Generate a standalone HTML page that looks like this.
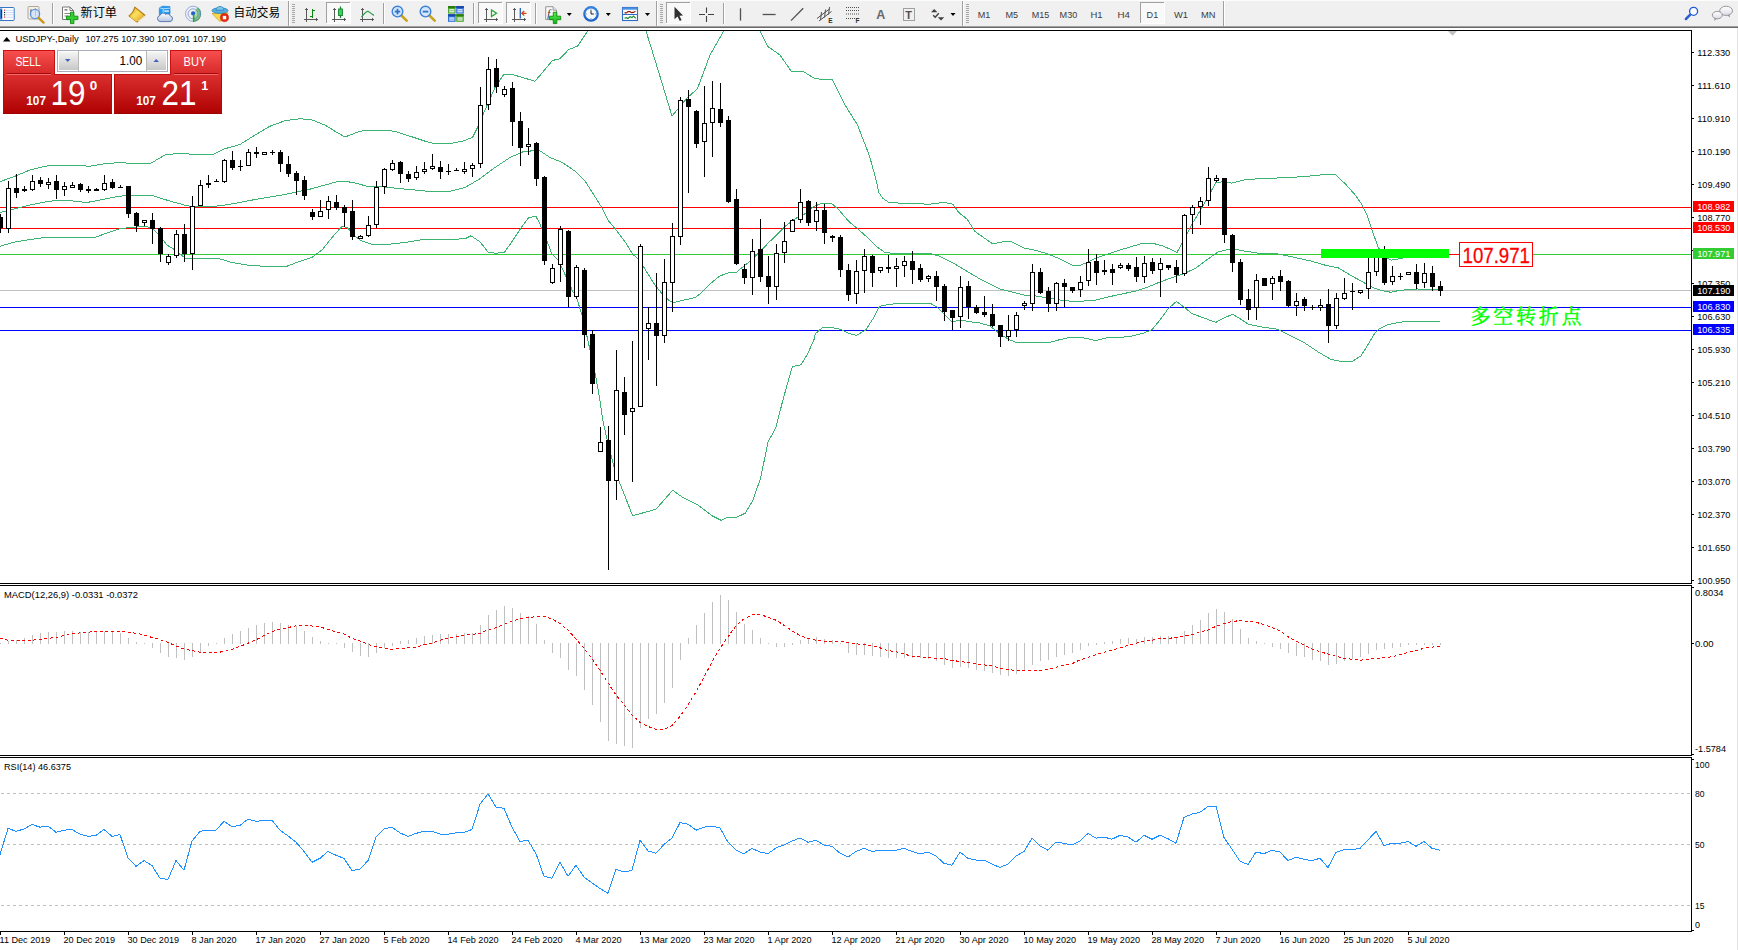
<!DOCTYPE html>
<html lang="zh"><head><meta charset="utf-8"><title>USDJPY Daily</title>
<style>
html,body{margin:0;padding:0;background:#fff;}
body{width:1738px;height:950px;overflow:hidden;position:relative;}
svg{position:absolute;left:0;top:0;display:block;font-family:"Liberation Sans","Noto Sans CJK SC",sans-serif;}
text{white-space:pre;}
</style></head><body>
<svg width="1738" height="950" viewBox="0 0 1738 950">
<rect x="0" y="28" width="1738" height="922" fill="#fff"/>
<rect x="1737" y="28" width="1" height="922" fill="#e3e3e3"/>
<defs><clipPath id="cm"><rect x="0" y="31" width="1691" height="552"/></clipPath><linearGradient id="gt" x1="0" y1="0" x2="0" y2="1"><stop offset="0" stop-color="#f85050"/><stop offset="1" stop-color="#d62828"/></linearGradient><linearGradient id="gb" x1="0" y1="0" x2="0" y2="1"><stop offset="0" stop-color="#dc3030"/><stop offset="1" stop-color="#ae0000"/></linearGradient><linearGradient id="gs" x1="0" y1="0" x2="0" y2="1"><stop offset="0" stop-color="#f4f4f4"/><stop offset="1" stop-color="#c8c8c8"/></linearGradient></defs>
<g clip-path="url(#cm)">
<g shape-rendering="crispEdges">
<rect x="0" y="207" width="1691" height="1" fill="#ff0000"/>
<rect x="0" y="228" width="1691" height="1" fill="#ff0000"/>
<rect x="0" y="254" width="1691" height="1" fill="#32cd32"/>
<rect x="0" y="290" width="1691" height="1" fill="#c0c0c0"/>
<rect x="0" y="307" width="1691" height="1" fill="#0000ff"/>
<rect x="0" y="330" width="1691" height="1" fill="#0000ff"/>
</g>
<polyline points="0.0,181.7 15.0,176.2 30.0,170.0 45.0,166.2 60.0,165.0 75.0,165.5 90.0,166.2 105.0,163.7 120.0,162.5 135.0,163.7 150.0,163.7 165.0,155.0 180.0,153.2 195.0,154.5 212.0,155.0 225.0,148.7 240.0,144.5 255.0,135.0 270.0,126.2 285.0,120.7 300.0,118.7 312.0,120.0 325.0,125.0 337.0,132.5 345.0,137.0 360.0,131.2 375.0,130.0 395.0,131.2 410.0,136.2 425.0,141.2 435.0,143.7 450.0,143.7 462.5,141.2 472.5,137.5 477.5,127.5 485.0,110.0 495.0,87.5 503.7,74.5 512.5,74.5 522.5,77.5 535.0,81.2 542.5,72.5 552.5,60.5 560.0,58.7 568.7,49.5 577.5,46.2 587.5,31.2 600.0,5.0 620.0,-20.0 634.0,-20.0 646.0,31.0 655.0,60.0 672.0,116.0 687.5,97.5 697.5,88.7 710.0,55.0 723.7,31.0 735.0,5.0 748.0,5.0 760.0,31.0 767.5,46.2 780.0,55.0 791.0,71.0 802.5,71.0 815.0,78.7 832.5,80.0 845.0,105.0 857.5,125.0 869.5,156.0 876.1,180.0 878.8,192.5 882.4,197.9 888.6,202.4 903.0,203.3 917.3,203.8 929.8,204.2 944.1,202.4 953.0,204.2 958.4,212.2 967.4,219.4 974.5,231.0 980.0,235.0 993.0,244.0 1006.0,241.0 1012.0,242.0 1024.0,248.0 1036.0,250.4 1048.0,254.0 1060.0,259.0 1072.0,265.0 1080.0,265.4 1088.0,262.0 1096.0,258.0 1108.0,254.0 1120.0,250.0 1132.0,246.4 1144.0,243.0 1154.0,243.6 1164.0,246.4 1177.0,252.4 1184.0,240.0 1192.0,224.0 1200.0,211.0 1207.3,198.4 1215.7,182.7 1224.2,181.5 1231.5,183.2 1246.0,179.5 1263.0,178.6 1282.3,177.8 1304.1,176.6 1321.1,174.9 1335.6,174.9 1345.3,183.9 1355.0,194.8 1361.0,203.3 1367.1,215.4 1371.9,229.9 1378.0,246.9 1384.0,256.0 1391.3,260.2 1401.0,258.5 1410.0,256.0 1425.0,254.0 1440.0,253.0" fill="none" stroke="#3cb371" stroke-width="1" shape-rendering="crispEdges"/>
<polyline points="0.0,212.5 15.0,208.7 30.0,205.0 45.0,202.0 60.0,200.0 75.0,201.2 87.0,202.5 100.0,200.0 112.0,197.5 125.0,195.5 140.0,195.0 152.0,195.5 162.0,198.7 175.0,202.5 187.0,205.7 195.0,206.7 212.0,206.7 225.0,205.0 240.0,202.5 255.0,199.5 270.0,197.0 285.0,194.5 300.0,191.2 312.0,188.7 325.0,185.0 337.0,181.7 345.0,181.2 355.0,183.0 367.0,186.2 385.0,187.0 400.0,188.7 415.0,190.0 435.0,192.0 450.0,191.2 465.0,187.5 480.0,178.7 495.0,167.5 510.0,157.5 522.5,152.0 538.7,150.0 550.0,157.5 562.5,162.5 575.0,171.2 584.7,180.5 595.2,197.0 602.6,208.9 608.6,220.9 616.1,229.8 625.1,241.8 632.5,253.8 640.0,261.2 647.5,273.2 655.0,285.2 662.5,294.2 668.4,300.1 672.9,302.7 680.4,300.9 695.4,297.5 701.4,292.7 710.3,283.7 719.3,276.2 728.0,273.0 736.5,272.2 741.9,267.7 750.8,260.5 759.8,251.6 768.7,242.6 777.7,233.7 784.8,226.5 795.6,218.5 804.5,214.0 813.5,206.8 820.6,203.6 831.4,203.3 838.5,209.5 849.3,222.0 858.2,229.2 867.2,237.3 876.1,246.2 885.0,252.5 895.8,253.7 910.1,253.7 929.8,253.4 938.7,256.0 947.7,260.5 956.6,265.0 965.6,270.4 974.5,275.7 980.0,279.0 990.0,284.0 1000.0,289.0 1012.0,292.0 1024.0,295.0 1036.0,296.0 1048.0,298.0 1060.0,300.0 1072.0,301.4 1084.0,301.0 1096.0,300.0 1108.0,297.0 1120.0,294.4 1136.0,291.0 1148.0,287.0 1160.0,282.0 1172.0,277.6 1184.0,273.6 1196.0,268.0 1208.0,259.0 1218.0,252.0 1228.0,249.6 1232.0,248.5 1245.3,251.2 1258.5,253.2 1275.8,253.6 1285.0,255.4 1298.3,258.2 1311.6,261.2 1324.9,265.1 1338.1,267.8 1344.7,271.8 1354.0,277.1 1364.6,283.0 1372.6,287.4 1381.9,290.7 1391.2,292.3 1397.8,290.7 1407.1,289.7 1417.7,289.0 1431.0,289.4 1440.2,289.9" fill="none" stroke="#3cb371" stroke-width="1" shape-rendering="crispEdges"/>
<polyline points="0.0,246.2 15.0,242.0 30.0,239.5 45.0,237.5 60.0,237.0 75.0,238.0 95.0,237.5 105.0,233.7 120.0,228.7 130.0,227.5 145.0,226.2 152.0,228.0 160.0,236.2 167.0,245.0 175.0,250.0 185.0,258.0 200.0,258.0 217.0,258.0 232.0,262.5 247.0,265.0 262.0,266.2 275.0,267.0 287.0,266.2 300.0,261.2 312.0,257.5 322.0,250.0 332.0,237.5 342.0,226.2 347.0,227.5 355.0,236.2 362.0,241.2 372.0,244.2 387.0,244.5 405.0,242.5 420.0,240.0 435.0,239.5 450.0,239.5 465.0,238.7 471.0,235.8 480.0,241.8 488.2,252.3 496.4,253.3 504.6,252.0 512.9,240.3 521.8,226.8 528.6,217.6 536.0,216.4 539.8,223.8 547.3,241.8 551.8,253.8 557.8,259.8 563.7,271.7 572.7,291.2 576.5,297.5 581.7,314.0 587.7,339.4 595.2,373.8 599.6,397.7 602.7,420.0 607.6,441.9 614.0,467.3 619.1,481.3 632.6,515.7 656.0,509.3 672.6,490.2 681.5,496.6 698.0,505.0 712.0,515.7 721.0,520.3 727.3,517.5 736.2,517.5 745.2,513.2 752.8,500.4 760.4,478.8 768.1,441.9 775.7,427.9 783.3,398.6 792.3,366.7 801.2,364.7 807.5,354.0 813.9,340.0 815.3,333.9 822.4,327.6 831.4,327.3 840.3,329.4 849.3,333.5 856.4,335.3 865.4,330.3 872.5,319.6 879.7,306.2 888.6,304.4 903.0,303.1 917.3,303.5 929.8,303.1 937.0,307.0 944.1,314.2 951.3,321.4 962.0,320.5 974.5,322.3 980.0,323.0 990.0,326.0 1000.0,334.0 1008.0,339.0 1016.0,342.4 1032.0,342.4 1050.0,342.4 1060.0,339.6 1072.0,337.0 1084.0,338.0 1096.0,340.6 1108.0,337.6 1120.0,337.6 1132.0,336.0 1144.0,333.0 1152.0,329.6 1160.0,320.0 1168.0,309.0 1176.4,301.4 1184.0,307.0 1192.0,313.6 1204.0,318.0 1215.7,322.4 1224.0,318.0 1232.7,314.2 1241.2,319.5 1248.4,324.3 1260.5,326.8 1277.5,329.2 1287.2,334.0 1304.1,342.5 1318.6,352.2 1330.8,359.4 1342.9,361.9 1352.5,361.4 1361.0,355.8 1367.1,346.1 1374.3,334.0 1379.2,328.7 1388.9,324.3 1405.8,321.4 1439.7,321.2" fill="none" stroke="#3cb371" stroke-width="1" shape-rendering="crispEdges"/>
<g shape-rendering="crispEdges">
<rect x="0" y="214" width="1" height="19" fill="#000"/>
<rect x="-2" y="217" width="5" height="11" fill="#000"/>
<rect x="8" y="181" width="1" height="52" fill="#000"/>
<rect x="6" y="188" width="5" height="41" fill="#000"/>
<rect x="7" y="189" width="3" height="39" fill="#fff"/>
<rect x="16" y="174" width="1" height="24" fill="#000"/>
<rect x="14" y="188" width="5" height="5" fill="#000"/>
<rect x="24" y="186" width="1" height="6" fill="#000"/>
<rect x="22" y="189" width="5" height="2" fill="#000"/>
<rect x="32" y="175" width="1" height="16" fill="#000"/>
<rect x="30" y="181" width="5" height="9" fill="#000"/>
<rect x="31" y="182" width="3" height="7" fill="#fff"/>
<rect x="40" y="177" width="1" height="10" fill="#000"/>
<rect x="38" y="180" width="5" height="4" fill="#000"/>
<rect x="48" y="178" width="1" height="11" fill="#000"/>
<rect x="46" y="182" width="5" height="3" fill="#000"/>
<rect x="47" y="183" width="3" height="1" fill="#fff"/>
<rect x="56" y="175" width="1" height="24" fill="#000"/>
<rect x="54" y="181" width="5" height="9" fill="#000"/>
<rect x="64" y="182" width="1" height="14" fill="#000"/>
<rect x="62" y="186" width="5" height="4" fill="#000"/>
<rect x="63" y="187" width="3" height="2" fill="#fff"/>
<rect x="72" y="182" width="1" height="4" fill="#000"/>
<rect x="70" y="185" width="5" height="3" fill="#000"/>
<rect x="71" y="186" width="3" height="1" fill="#fff"/>
<rect x="80" y="183" width="1" height="9" fill="#000"/>
<rect x="78" y="184" width="5" height="6" fill="#000"/>
<rect x="88" y="186" width="1" height="7" fill="#000"/>
<rect x="86" y="189" width="5" height="2" fill="#000"/>
<rect x="96" y="188" width="1" height="3" fill="#000"/>
<rect x="94" y="189" width="5" height="2" fill="#000"/>
<rect x="104" y="175" width="1" height="16" fill="#000"/>
<rect x="102" y="183" width="5" height="7" fill="#000"/>
<rect x="103" y="184" width="3" height="5" fill="#fff"/>
<rect x="112" y="179" width="1" height="10" fill="#000"/>
<rect x="110" y="182" width="5" height="6" fill="#000"/>
<rect x="120" y="185" width="1" height="3" fill="#000"/>
<rect x="118" y="187" width="5" height="1" fill="#000"/>
<rect x="128" y="186" width="1" height="32" fill="#000"/>
<rect x="126" y="186" width="5" height="28" fill="#000"/>
<rect x="136" y="212" width="1" height="20" fill="#000"/>
<rect x="134" y="213" width="5" height="13" fill="#000"/>
<rect x="144" y="220" width="1" height="6" fill="#000"/>
<rect x="142" y="220" width="5" height="3" fill="#000"/>
<rect x="143" y="221" width="3" height="1" fill="#fff"/>
<rect x="152" y="213" width="1" height="31" fill="#000"/>
<rect x="150" y="220" width="5" height="9" fill="#000"/>
<rect x="160" y="227" width="1" height="35" fill="#000"/>
<rect x="158" y="228" width="5" height="26" fill="#000"/>
<rect x="168" y="254" width="1" height="11" fill="#000"/>
<rect x="166" y="256" width="5" height="7" fill="#000"/>
<rect x="167" y="257" width="3" height="5" fill="#fff"/>
<rect x="176" y="230" width="1" height="28" fill="#000"/>
<rect x="174" y="234" width="5" height="22" fill="#000"/>
<rect x="175" y="235" width="3" height="20" fill="#fff"/>
<rect x="184" y="224" width="1" height="38" fill="#000"/>
<rect x="182" y="234" width="5" height="20" fill="#000"/>
<rect x="192" y="196" width="1" height="74" fill="#000"/>
<rect x="190" y="206" width="5" height="48" fill="#000"/>
<rect x="191" y="207" width="3" height="46" fill="#fff"/>
<rect x="200" y="180" width="1" height="26" fill="#000"/>
<rect x="198" y="185" width="5" height="21" fill="#000"/>
<rect x="199" y="186" width="3" height="19" fill="#fff"/>
<rect x="208" y="175" width="1" height="13" fill="#000"/>
<rect x="206" y="183" width="5" height="2" fill="#000"/>
<rect x="216" y="179" width="1" height="3" fill="#000"/>
<rect x="214" y="181" width="5" height="1" fill="#000"/>
<rect x="224" y="159" width="1" height="24" fill="#000"/>
<rect x="222" y="160" width="5" height="22" fill="#000"/>
<rect x="223" y="161" width="3" height="20" fill="#fff"/>
<rect x="232" y="151" width="1" height="19" fill="#000"/>
<rect x="230" y="160" width="5" height="8" fill="#000"/>
<rect x="240" y="160" width="1" height="11" fill="#000"/>
<rect x="238" y="166" width="5" height="1" fill="#000"/>
<rect x="248" y="149" width="1" height="17" fill="#000"/>
<rect x="246" y="152" width="5" height="14" fill="#000"/>
<rect x="247" y="153" width="3" height="12" fill="#fff"/>
<rect x="256" y="147" width="1" height="11" fill="#000"/>
<rect x="254" y="152" width="5" height="2" fill="#000"/>
<rect x="264" y="152" width="1" height="2" fill="#000"/>
<rect x="262" y="152" width="5" height="3" fill="#000"/>
<rect x="263" y="153" width="3" height="1" fill="#fff"/>
<rect x="272" y="150" width="1" height="5" fill="#000"/>
<rect x="270" y="152" width="5" height="1" fill="#000"/>
<rect x="280" y="150" width="1" height="22" fill="#000"/>
<rect x="278" y="152" width="5" height="12" fill="#000"/>
<rect x="288" y="156" width="1" height="21" fill="#000"/>
<rect x="286" y="164" width="5" height="10" fill="#000"/>
<rect x="296" y="171" width="1" height="24" fill="#000"/>
<rect x="294" y="173" width="5" height="8" fill="#000"/>
<rect x="304" y="176" width="1" height="24" fill="#000"/>
<rect x="302" y="180" width="5" height="16" fill="#000"/>
<rect x="312" y="209" width="1" height="11" fill="#000"/>
<rect x="310" y="212" width="5" height="5" fill="#000"/>
<rect x="320" y="200" width="1" height="17" fill="#000"/>
<rect x="318" y="211" width="5" height="6" fill="#000"/>
<rect x="319" y="212" width="3" height="4" fill="#fff"/>
<rect x="328" y="196" width="1" height="23" fill="#000"/>
<rect x="326" y="201" width="5" height="9" fill="#000"/>
<rect x="327" y="202" width="3" height="7" fill="#fff"/>
<rect x="336" y="195" width="1" height="15" fill="#000"/>
<rect x="334" y="202" width="5" height="6" fill="#000"/>
<rect x="344" y="205" width="1" height="22" fill="#000"/>
<rect x="342" y="207" width="5" height="6" fill="#000"/>
<rect x="352" y="200" width="1" height="40" fill="#000"/>
<rect x="350" y="211" width="5" height="26" fill="#000"/>
<rect x="360" y="235" width="1" height="3" fill="#000"/>
<rect x="358" y="236" width="5" height="3" fill="#000"/>
<rect x="359" y="237" width="3" height="1" fill="#fff"/>
<rect x="368" y="216" width="1" height="21" fill="#000"/>
<rect x="366" y="225" width="5" height="11" fill="#000"/>
<rect x="367" y="226" width="3" height="9" fill="#fff"/>
<rect x="376" y="181" width="1" height="47" fill="#000"/>
<rect x="374" y="187" width="5" height="38" fill="#000"/>
<rect x="375" y="188" width="3" height="36" fill="#fff"/>
<rect x="384" y="168" width="1" height="26" fill="#000"/>
<rect x="382" y="169" width="5" height="18" fill="#000"/>
<rect x="383" y="170" width="3" height="16" fill="#fff"/>
<rect x="392" y="160" width="1" height="11" fill="#000"/>
<rect x="390" y="163" width="5" height="7" fill="#000"/>
<rect x="391" y="164" width="3" height="5" fill="#fff"/>
<rect x="400" y="161" width="1" height="22" fill="#000"/>
<rect x="398" y="162" width="5" height="12" fill="#000"/>
<rect x="408" y="171" width="1" height="11" fill="#000"/>
<rect x="406" y="174" width="5" height="5" fill="#000"/>
<rect x="416" y="166" width="1" height="14" fill="#000"/>
<rect x="414" y="172" width="5" height="6" fill="#000"/>
<rect x="415" y="173" width="3" height="4" fill="#fff"/>
<rect x="424" y="162" width="1" height="12" fill="#000"/>
<rect x="422" y="169" width="5" height="3" fill="#000"/>
<rect x="423" y="170" width="3" height="1" fill="#fff"/>
<rect x="432" y="154" width="1" height="16" fill="#000"/>
<rect x="430" y="166" width="5" height="3" fill="#000"/>
<rect x="431" y="167" width="3" height="1" fill="#fff"/>
<rect x="440" y="161" width="1" height="18" fill="#000"/>
<rect x="438" y="167" width="5" height="5" fill="#000"/>
<rect x="448" y="164" width="1" height="11" fill="#000"/>
<rect x="446" y="171" width="5" height="1" fill="#000"/>
<rect x="456" y="168" width="1" height="3" fill="#000"/>
<rect x="454" y="170" width="5" height="1" fill="#000"/>
<rect x="464" y="162" width="1" height="12" fill="#000"/>
<rect x="462" y="169" width="5" height="3" fill="#000"/>
<rect x="463" y="170" width="3" height="1" fill="#fff"/>
<rect x="472" y="163" width="1" height="14" fill="#000"/>
<rect x="470" y="165" width="5" height="4" fill="#000"/>
<rect x="471" y="166" width="3" height="2" fill="#fff"/>
<rect x="480" y="87" width="1" height="81" fill="#000"/>
<rect x="478" y="105" width="5" height="59" fill="#000"/>
<rect x="479" y="106" width="3" height="57" fill="#fff"/>
<rect x="488" y="57" width="1" height="53" fill="#000"/>
<rect x="486" y="69" width="5" height="36" fill="#000"/>
<rect x="487" y="70" width="3" height="34" fill="#fff"/>
<rect x="496" y="59" width="1" height="34" fill="#000"/>
<rect x="494" y="68" width="5" height="19" fill="#000"/>
<rect x="504" y="86" width="1" height="11" fill="#000"/>
<rect x="502" y="89" width="5" height="6" fill="#000"/>
<rect x="503" y="90" width="3" height="4" fill="#fff"/>
<rect x="512" y="82" width="1" height="64" fill="#000"/>
<rect x="510" y="88" width="5" height="34" fill="#000"/>
<rect x="520" y="112" width="1" height="54" fill="#000"/>
<rect x="518" y="121" width="5" height="27" fill="#000"/>
<rect x="528" y="128" width="1" height="27" fill="#000"/>
<rect x="526" y="144" width="5" height="3" fill="#000"/>
<rect x="527" y="145" width="3" height="1" fill="#fff"/>
<rect x="536" y="142" width="1" height="44" fill="#000"/>
<rect x="534" y="143" width="5" height="36" fill="#000"/>
<rect x="544" y="176" width="1" height="89" fill="#000"/>
<rect x="542" y="177" width="5" height="84" fill="#000"/>
<rect x="552" y="264" width="1" height="20" fill="#000"/>
<rect x="550" y="268" width="5" height="15" fill="#000"/>
<rect x="551" y="269" width="3" height="13" fill="#fff"/>
<rect x="560" y="226" width="1" height="56" fill="#000"/>
<rect x="558" y="229" width="5" height="36" fill="#000"/>
<rect x="559" y="230" width="3" height="34" fill="#fff"/>
<rect x="568" y="230" width="1" height="77" fill="#000"/>
<rect x="566" y="231" width="5" height="66" fill="#000"/>
<rect x="576" y="265" width="1" height="34" fill="#000"/>
<rect x="574" y="267" width="5" height="30" fill="#000"/>
<rect x="575" y="268" width="3" height="28" fill="#fff"/>
<rect x="584" y="268" width="1" height="80" fill="#000"/>
<rect x="582" y="270" width="5" height="65" fill="#000"/>
<rect x="592" y="330" width="1" height="64" fill="#000"/>
<rect x="590" y="334" width="5" height="50" fill="#000"/>
<rect x="600" y="427" width="1" height="25" fill="#000"/>
<rect x="598" y="442" width="5" height="10" fill="#000"/>
<rect x="599" y="443" width="3" height="8" fill="#fff"/>
<rect x="608" y="426" width="1" height="144" fill="#000"/>
<rect x="606" y="440" width="5" height="41" fill="#000"/>
<rect x="616" y="350" width="1" height="150" fill="#000"/>
<rect x="614" y="390" width="5" height="91" fill="#000"/>
<rect x="615" y="391" width="3" height="89" fill="#fff"/>
<rect x="624" y="377" width="1" height="58" fill="#000"/>
<rect x="622" y="392" width="5" height="23" fill="#000"/>
<rect x="632" y="341" width="1" height="141" fill="#000"/>
<rect x="630" y="408" width="5" height="4" fill="#000"/>
<rect x="631" y="409" width="3" height="2" fill="#fff"/>
<rect x="640" y="244" width="1" height="163" fill="#000"/>
<rect x="638" y="246" width="5" height="161" fill="#000"/>
<rect x="639" y="247" width="3" height="159" fill="#fff"/>
<rect x="648" y="307" width="1" height="53" fill="#000"/>
<rect x="646" y="323" width="5" height="6" fill="#000"/>
<rect x="647" y="324" width="3" height="4" fill="#fff"/>
<rect x="656" y="273" width="1" height="113" fill="#000"/>
<rect x="654" y="323" width="5" height="13" fill="#000"/>
<rect x="664" y="259" width="1" height="84" fill="#000"/>
<rect x="662" y="282" width="5" height="54" fill="#000"/>
<rect x="663" y="283" width="3" height="52" fill="#fff"/>
<rect x="672" y="223" width="1" height="89" fill="#000"/>
<rect x="670" y="236" width="5" height="47" fill="#000"/>
<rect x="671" y="237" width="3" height="45" fill="#fff"/>
<rect x="680" y="97" width="1" height="148" fill="#000"/>
<rect x="678" y="100" width="5" height="137" fill="#000"/>
<rect x="679" y="101" width="3" height="135" fill="#fff"/>
<rect x="688" y="90" width="1" height="103" fill="#000"/>
<rect x="686" y="99" width="5" height="8" fill="#000"/>
<rect x="696" y="110" width="1" height="38" fill="#000"/>
<rect x="694" y="111" width="5" height="33" fill="#000"/>
<rect x="704" y="86" width="1" height="91" fill="#000"/>
<rect x="702" y="123" width="5" height="19" fill="#000"/>
<rect x="703" y="124" width="3" height="17" fill="#fff"/>
<rect x="712" y="81" width="1" height="76" fill="#000"/>
<rect x="710" y="108" width="5" height="15" fill="#000"/>
<rect x="711" y="109" width="3" height="13" fill="#fff"/>
<rect x="720" y="83" width="1" height="44" fill="#000"/>
<rect x="718" y="109" width="5" height="14" fill="#000"/>
<rect x="728" y="116" width="1" height="87" fill="#000"/>
<rect x="726" y="120" width="5" height="82" fill="#000"/>
<rect x="736" y="189" width="1" height="76" fill="#000"/>
<rect x="734" y="199" width="5" height="65" fill="#000"/>
<rect x="744" y="264" width="1" height="20" fill="#000"/>
<rect x="742" y="269" width="5" height="9" fill="#000"/>
<rect x="752" y="239" width="1" height="56" fill="#000"/>
<rect x="750" y="251" width="5" height="27" fill="#000"/>
<rect x="751" y="252" width="3" height="25" fill="#fff"/>
<rect x="760" y="219" width="1" height="63" fill="#000"/>
<rect x="758" y="249" width="5" height="28" fill="#000"/>
<rect x="768" y="256" width="1" height="48" fill="#000"/>
<rect x="766" y="276" width="5" height="11" fill="#000"/>
<rect x="776" y="244" width="1" height="56" fill="#000"/>
<rect x="774" y="253" width="5" height="34" fill="#000"/>
<rect x="775" y="254" width="3" height="32" fill="#fff"/>
<rect x="784" y="222" width="1" height="41" fill="#000"/>
<rect x="782" y="241" width="5" height="12" fill="#000"/>
<rect x="783" y="242" width="3" height="10" fill="#fff"/>
<rect x="792" y="219" width="1" height="13" fill="#000"/>
<rect x="790" y="220" width="5" height="12" fill="#000"/>
<rect x="791" y="221" width="3" height="10" fill="#fff"/>
<rect x="800" y="189" width="1" height="34" fill="#000"/>
<rect x="798" y="202" width="5" height="18" fill="#000"/>
<rect x="799" y="203" width="3" height="16" fill="#fff"/>
<rect x="808" y="200" width="1" height="26" fill="#000"/>
<rect x="806" y="201" width="5" height="22" fill="#000"/>
<rect x="816" y="202" width="1" height="29" fill="#000"/>
<rect x="814" y="210" width="5" height="12" fill="#000"/>
<rect x="815" y="211" width="3" height="10" fill="#fff"/>
<rect x="824" y="204" width="1" height="40" fill="#000"/>
<rect x="822" y="210" width="5" height="23" fill="#000"/>
<rect x="832" y="235" width="1" height="7" fill="#000"/>
<rect x="830" y="236" width="5" height="2" fill="#000"/>
<rect x="840" y="235" width="1" height="42" fill="#000"/>
<rect x="838" y="237" width="5" height="33" fill="#000"/>
<rect x="848" y="264" width="1" height="37" fill="#000"/>
<rect x="846" y="270" width="5" height="25" fill="#000"/>
<rect x="856" y="260" width="1" height="44" fill="#000"/>
<rect x="854" y="271" width="5" height="23" fill="#000"/>
<rect x="855" y="272" width="3" height="21" fill="#fff"/>
<rect x="864" y="249" width="1" height="44" fill="#000"/>
<rect x="862" y="256" width="5" height="15" fill="#000"/>
<rect x="863" y="257" width="3" height="13" fill="#fff"/>
<rect x="872" y="255" width="1" height="32" fill="#000"/>
<rect x="870" y="256" width="5" height="17" fill="#000"/>
<rect x="880" y="267" width="1" height="6" fill="#000"/>
<rect x="878" y="267" width="5" height="4" fill="#000"/>
<rect x="879" y="268" width="3" height="2" fill="#fff"/>
<rect x="888" y="255" width="1" height="18" fill="#000"/>
<rect x="886" y="267" width="5" height="2" fill="#000"/>
<rect x="896" y="258" width="1" height="29" fill="#000"/>
<rect x="894" y="266" width="5" height="3" fill="#000"/>
<rect x="895" y="267" width="3" height="1" fill="#fff"/>
<rect x="904" y="256" width="1" height="21" fill="#000"/>
<rect x="902" y="261" width="5" height="5" fill="#000"/>
<rect x="903" y="262" width="3" height="3" fill="#fff"/>
<rect x="912" y="251" width="1" height="33" fill="#000"/>
<rect x="910" y="261" width="5" height="9" fill="#000"/>
<rect x="920" y="264" width="1" height="18" fill="#000"/>
<rect x="918" y="268" width="5" height="12" fill="#000"/>
<rect x="928" y="275" width="1" height="7" fill="#000"/>
<rect x="926" y="276" width="5" height="3" fill="#000"/>
<rect x="927" y="277" width="3" height="1" fill="#fff"/>
<rect x="936" y="271" width="1" height="30" fill="#000"/>
<rect x="934" y="276" width="5" height="11" fill="#000"/>
<rect x="944" y="284" width="1" height="37" fill="#000"/>
<rect x="942" y="286" width="5" height="26" fill="#000"/>
<rect x="952" y="310" width="1" height="20" fill="#000"/>
<rect x="950" y="310" width="5" height="8" fill="#000"/>
<rect x="960" y="276" width="1" height="52" fill="#000"/>
<rect x="958" y="287" width="5" height="30" fill="#000"/>
<rect x="959" y="288" width="3" height="28" fill="#fff"/>
<rect x="968" y="281" width="1" height="38" fill="#000"/>
<rect x="966" y="286" width="5" height="21" fill="#000"/>
<rect x="976" y="305" width="1" height="9" fill="#000"/>
<rect x="974" y="307" width="5" height="6" fill="#000"/>
<rect x="984" y="296" width="1" height="21" fill="#000"/>
<rect x="982" y="312" width="5" height="3" fill="#000"/>
<rect x="992" y="304" width="1" height="23" fill="#000"/>
<rect x="990" y="314" width="5" height="12" fill="#000"/>
<rect x="1000" y="325" width="1" height="22" fill="#000"/>
<rect x="998" y="325" width="5" height="12" fill="#000"/>
<rect x="1008" y="315" width="1" height="26" fill="#000"/>
<rect x="1006" y="330" width="5" height="7" fill="#000"/>
<rect x="1007" y="331" width="3" height="5" fill="#fff"/>
<rect x="1016" y="312" width="1" height="25" fill="#000"/>
<rect x="1014" y="315" width="5" height="15" fill="#000"/>
<rect x="1015" y="316" width="3" height="13" fill="#fff"/>
<rect x="1024" y="301" width="1" height="9" fill="#000"/>
<rect x="1022" y="303" width="5" height="3" fill="#000"/>
<rect x="1023" y="304" width="3" height="1" fill="#fff"/>
<rect x="1032" y="264" width="1" height="47" fill="#000"/>
<rect x="1030" y="272" width="5" height="32" fill="#000"/>
<rect x="1031" y="273" width="3" height="30" fill="#fff"/>
<rect x="1040" y="268" width="1" height="26" fill="#000"/>
<rect x="1038" y="272" width="5" height="21" fill="#000"/>
<rect x="1048" y="287" width="1" height="25" fill="#000"/>
<rect x="1046" y="291" width="5" height="13" fill="#000"/>
<rect x="1056" y="282" width="1" height="29" fill="#000"/>
<rect x="1054" y="283" width="5" height="21" fill="#000"/>
<rect x="1055" y="284" width="3" height="19" fill="#fff"/>
<rect x="1064" y="279" width="1" height="28" fill="#000"/>
<rect x="1062" y="283" width="5" height="4" fill="#000"/>
<rect x="1072" y="287" width="1" height="6" fill="#000"/>
<rect x="1070" y="287" width="5" height="4" fill="#000"/>
<rect x="1080" y="276" width="1" height="21" fill="#000"/>
<rect x="1078" y="282" width="5" height="8" fill="#000"/>
<rect x="1079" y="283" width="3" height="6" fill="#fff"/>
<rect x="1088" y="249" width="1" height="37" fill="#000"/>
<rect x="1086" y="262" width="5" height="19" fill="#000"/>
<rect x="1087" y="263" width="3" height="17" fill="#fff"/>
<rect x="1096" y="254" width="1" height="31" fill="#000"/>
<rect x="1094" y="261" width="5" height="12" fill="#000"/>
<rect x="1104" y="260" width="1" height="15" fill="#000"/>
<rect x="1102" y="270" width="5" height="2" fill="#000"/>
<rect x="1112" y="264" width="1" height="21" fill="#000"/>
<rect x="1110" y="269" width="5" height="4" fill="#000"/>
<rect x="1120" y="263" width="1" height="6" fill="#000"/>
<rect x="1118" y="265" width="5" height="3" fill="#000"/>
<rect x="1119" y="266" width="3" height="1" fill="#fff"/>
<rect x="1128" y="263" width="1" height="8" fill="#000"/>
<rect x="1126" y="265" width="5" height="4" fill="#000"/>
<rect x="1136" y="257" width="1" height="25" fill="#000"/>
<rect x="1134" y="267" width="5" height="10" fill="#000"/>
<rect x="1144" y="256" width="1" height="27" fill="#000"/>
<rect x="1142" y="263" width="5" height="14" fill="#000"/>
<rect x="1143" y="264" width="3" height="12" fill="#fff"/>
<rect x="1152" y="258" width="1" height="16" fill="#000"/>
<rect x="1150" y="262" width="5" height="9" fill="#000"/>
<rect x="1160" y="258" width="1" height="39" fill="#000"/>
<rect x="1158" y="263" width="5" height="7" fill="#000"/>
<rect x="1159" y="264" width="3" height="5" fill="#fff"/>
<rect x="1168" y="265" width="1" height="5" fill="#000"/>
<rect x="1166" y="265" width="5" height="3" fill="#000"/>
<rect x="1176" y="260" width="1" height="23" fill="#000"/>
<rect x="1174" y="267" width="5" height="8" fill="#000"/>
<rect x="1184" y="214" width="1" height="62" fill="#000"/>
<rect x="1182" y="215" width="5" height="59" fill="#000"/>
<rect x="1183" y="216" width="3" height="57" fill="#fff"/>
<rect x="1192" y="205" width="1" height="29" fill="#000"/>
<rect x="1190" y="207" width="5" height="8" fill="#000"/>
<rect x="1191" y="208" width="3" height="6" fill="#fff"/>
<rect x="1200" y="197" width="1" height="28" fill="#000"/>
<rect x="1198" y="201" width="5" height="6" fill="#000"/>
<rect x="1199" y="202" width="3" height="4" fill="#fff"/>
<rect x="1208" y="167" width="1" height="39" fill="#000"/>
<rect x="1206" y="178" width="5" height="23" fill="#000"/>
<rect x="1207" y="179" width="3" height="21" fill="#fff"/>
<rect x="1216" y="175" width="1" height="7" fill="#000"/>
<rect x="1214" y="178" width="5" height="3" fill="#000"/>
<rect x="1215" y="179" width="3" height="1" fill="#fff"/>
<rect x="1224" y="178" width="1" height="65" fill="#000"/>
<rect x="1222" y="178" width="5" height="57" fill="#000"/>
<rect x="1232" y="234" width="1" height="38" fill="#000"/>
<rect x="1230" y="235" width="5" height="28" fill="#000"/>
<rect x="1240" y="259" width="1" height="46" fill="#000"/>
<rect x="1238" y="262" width="5" height="38" fill="#000"/>
<rect x="1248" y="289" width="1" height="31" fill="#000"/>
<rect x="1246" y="299" width="5" height="11" fill="#000"/>
<rect x="1256" y="274" width="1" height="46" fill="#000"/>
<rect x="1254" y="280" width="5" height="28" fill="#000"/>
<rect x="1255" y="281" width="3" height="26" fill="#fff"/>
<rect x="1264" y="278" width="1" height="8" fill="#000"/>
<rect x="1262" y="278" width="5" height="8" fill="#000"/>
<rect x="1272" y="276" width="1" height="24" fill="#000"/>
<rect x="1270" y="278" width="5" height="6" fill="#000"/>
<rect x="1271" y="279" width="3" height="4" fill="#fff"/>
<rect x="1280" y="270" width="1" height="21" fill="#000"/>
<rect x="1278" y="276" width="5" height="6" fill="#000"/>
<rect x="1288" y="280" width="1" height="27" fill="#000"/>
<rect x="1286" y="281" width="5" height="25" fill="#000"/>
<rect x="1296" y="293" width="1" height="23" fill="#000"/>
<rect x="1294" y="301" width="5" height="5" fill="#000"/>
<rect x="1295" y="302" width="3" height="3" fill="#fff"/>
<rect x="1304" y="297" width="1" height="14" fill="#000"/>
<rect x="1302" y="299" width="5" height="7" fill="#000"/>
<rect x="1312" y="305" width="1" height="5" fill="#000"/>
<rect x="1310" y="307" width="5" height="1" fill="#000"/>
<rect x="1320" y="299" width="1" height="12" fill="#000"/>
<rect x="1318" y="305" width="5" height="3" fill="#000"/>
<rect x="1319" y="306" width="3" height="1" fill="#fff"/>
<rect x="1328" y="289" width="1" height="54" fill="#000"/>
<rect x="1326" y="304" width="5" height="22" fill="#000"/>
<rect x="1336" y="293" width="1" height="36" fill="#000"/>
<rect x="1334" y="298" width="5" height="28" fill="#000"/>
<rect x="1335" y="299" width="3" height="26" fill="#fff"/>
<rect x="1344" y="278" width="1" height="22" fill="#000"/>
<rect x="1342" y="293" width="5" height="6" fill="#000"/>
<rect x="1343" y="294" width="3" height="4" fill="#fff"/>
<rect x="1352" y="283" width="1" height="27" fill="#000"/>
<rect x="1350" y="291" width="5" height="1" fill="#000"/>
<rect x="1360" y="290" width="1" height="4" fill="#000"/>
<rect x="1358" y="290" width="5" height="3" fill="#000"/>
<rect x="1359" y="291" width="3" height="1" fill="#fff"/>
<rect x="1368" y="250" width="1" height="49" fill="#000"/>
<rect x="1366" y="272" width="5" height="17" fill="#000"/>
<rect x="1367" y="273" width="3" height="15" fill="#fff"/>
<rect x="1376" y="250" width="1" height="26" fill="#000"/>
<rect x="1374" y="250" width="5" height="22" fill="#000"/>
<rect x="1375" y="251" width="3" height="20" fill="#fff"/>
<rect x="1384" y="246" width="1" height="39" fill="#000"/>
<rect x="1382" y="252" width="5" height="31" fill="#000"/>
<rect x="1392" y="266" width="1" height="19" fill="#000"/>
<rect x="1390" y="276" width="5" height="6" fill="#000"/>
<rect x="1391" y="277" width="3" height="4" fill="#fff"/>
<rect x="1400" y="273" width="1" height="7" fill="#000"/>
<rect x="1398" y="276" width="5" height="1" fill="#000"/>
<rect x="1408" y="272" width="1" height="3" fill="#000"/>
<rect x="1406" y="272" width="5" height="3" fill="#000"/>
<rect x="1407" y="273" width="3" height="1" fill="#fff"/>
<rect x="1416" y="264" width="1" height="25" fill="#000"/>
<rect x="1414" y="272" width="5" height="12" fill="#000"/>
<rect x="1424" y="263" width="1" height="25" fill="#000"/>
<rect x="1422" y="273" width="5" height="10" fill="#000"/>
<rect x="1423" y="274" width="3" height="8" fill="#fff"/>
<rect x="1432" y="266" width="1" height="25" fill="#000"/>
<rect x="1430" y="273" width="5" height="14" fill="#000"/>
<rect x="1440" y="281" width="1" height="15" fill="#000"/>
<rect x="1438" y="286" width="5" height="5" fill="#000"/>
<rect x="1321" y="249" width="128" height="9" fill="#00ff00"/>
<rect x="1449" y="254" width="10" height="1" fill="#ff0000"/>
</g>
</g>
<rect x="1459.5" y="242.5" width="73" height="24" fill="#fff" stroke="#ff0000" stroke-width="1" shape-rendering="crispEdges"/>
<text x="1462.5" y="262.7" font-size="22.3" fill="#ff0000" textLength="67.5" lengthAdjust="spacingAndGlyphs" stroke="#ff0000" stroke-width="0.3">107.971</text>
<text x="1470.5" y="323.5" font-size="20" fill="#00ff00" textLength="111" lengthAdjust="spacing" font-family="&quot;Noto Serif CJK SC&quot;, &quot;Liberation Serif&quot;, serif" stroke="#00ff00" stroke-width="0.45">多空转折点</text>
<polygon points="1448,31 1457,31 1452.5,35.8" fill="#c0c0c0"/>
<polygon points="3,41.5 10.5,41.5 6.7,37" fill="#000"/>
<text x="15.4" y="41.7" font-size="9.4" fill="#000" textLength="63.4" lengthAdjust="spacingAndGlyphs">USDJPY-,Daily</text>
<text x="85.4" y="41.7" font-size="9.4" fill="#000" textLength="140.6" lengthAdjust="spacingAndGlyphs">107.275 107.390 107.091 107.190</text>
<g shape-rendering="crispEdges">
<rect x="3" y="50" width="52" height="25" fill="url(#gt)"/>
<rect x="170" y="50" width="52" height="25" fill="url(#gt)"/>
<rect x="3" y="74" width="109" height="40" fill="url(#gb)"/>
<rect x="114" y="74" width="108" height="40" fill="url(#gb)"/>
<rect x="7" y="73" width="44" height="1" fill="#a80808"/>
<rect x="7" y="74" width="44" height="1" fill="#f26a6a"/>
<rect x="174" y="73" width="44" height="1" fill="#a80808"/>
<rect x="174" y="74" width="44" height="1" fill="#f26a6a"/>
<rect x="3" y="50" width="52" height="1" fill="#c81010"/>
<rect x="3" y="50" width="1" height="25" fill="#c81010"/>
<rect x="54" y="50" width="1" height="25" fill="#c81010"/>
<rect x="170" y="50" width="52" height="1" fill="#c81010"/>
<rect x="170" y="50" width="1" height="25" fill="#c81010"/>
<rect x="221" y="50" width="1" height="25" fill="#c81010"/>
<rect x="3" y="74" width="1" height="40" fill="#b80808"/>
<rect x="111" y="74" width="1" height="40" fill="#b80808"/>
<rect x="3" y="113" width="109" height="1" fill="#a00000"/>
<rect x="114" y="74" width="1" height="40" fill="#b80808"/>
<rect x="221" y="74" width="1" height="40" fill="#b80808"/>
<rect x="114" y="113" width="108" height="1" fill="#a00000"/>
<rect x="55" y="74" width="57" height="1" fill="#c01010"/>
<rect x="114" y="74" width="56" height="1" fill="#c01010"/>
<rect x="57" y="50" width="111" height="22" fill="#a8acb8"/>
<rect x="58" y="51" width="109" height="20" fill="#fff"/>
<rect x="59" y="52" width="19" height="18" fill="url(#gs)"/>
<rect x="147" y="52" width="19" height="18" fill="url(#gs)"/>
<rect x="78" y="51" width="1" height="20" fill="#b8b8b8"/>
<rect x="146" y="51" width="1" height="20" fill="#b8b8b8"/>
</g>
<polygon points="65,59 70.5,59 67.7,62" fill="#4060c0"/>
<polygon points="153.5,62 159,62 156.2,59" fill="#4060c0"/>
<text x="15.4" y="66" font-size="12.2" fill="#fff" textLength="25.4" lengthAdjust="spacingAndGlyphs">SELL</text>
<text x="183.6" y="66" font-size="12.2" fill="#fff" textLength="22.7" lengthAdjust="spacingAndGlyphs">BUY</text>
<text x="119.5" y="64.8" font-size="12.2" fill="#000" textLength="22.7" lengthAdjust="spacingAndGlyphs">1.00</text>
<text x="26.3" y="104.8" font-size="12.2" fill="#fff" textLength="19.7" lengthAdjust="spacingAndGlyphs" font-weight="bold">107</text>
<text x="136.2" y="104.8" font-size="12.2" fill="#fff" textLength="19.7" lengthAdjust="spacingAndGlyphs" font-weight="bold">107</text>
<text x="50.5" y="105.2" font-size="35.5" fill="#fff" textLength="35" lengthAdjust="spacingAndGlyphs">19</text>
<text x="161.5" y="105.2" font-size="35.5" fill="#fff" textLength="35" lengthAdjust="spacingAndGlyphs">21</text>
<text x="89.7" y="90" font-size="13" fill="#fff" textLength="7.5" lengthAdjust="spacingAndGlyphs" font-weight="bold">0</text>
<text x="201.2" y="90" font-size="13" fill="#fff" textLength="7" lengthAdjust="spacingAndGlyphs" font-weight="bold">1</text>
<g shape-rendering="crispEdges">
<rect x="0" y="30" width="1692" height="1" fill="#000"/>
<rect x="0" y="583" width="1692" height="1" fill="#000"/>
<rect x="0" y="585" width="1692" height="1" fill="#000"/>
<rect x="0" y="755" width="1692" height="1" fill="#000"/>
<rect x="0" y="757" width="1692" height="1" fill="#000"/>
<rect x="0" y="931" width="1692" height="1" fill="#000"/>
<rect x="1691" y="30" width="1" height="554" fill="#000"/>
<rect x="1691" y="585" width="1" height="171" fill="#000"/>
<rect x="1691" y="757" width="1" height="175" fill="#000"/>
<rect x="1692" y="52" width="2" height="1" fill="#000"/>
<rect x="1692" y="85" width="2" height="1" fill="#000"/>
<rect x="1692" y="118" width="2" height="1" fill="#000"/>
<rect x="1692" y="151" width="2" height="1" fill="#000"/>
<rect x="1692" y="184" width="2" height="1" fill="#000"/>
<rect x="1692" y="217" width="2" height="1" fill="#000"/>
<rect x="1692" y="250" width="2" height="1" fill="#000"/>
<rect x="1692" y="283" width="2" height="1" fill="#000"/>
<rect x="1692" y="316" width="2" height="1" fill="#000"/>
<rect x="1692" y="349" width="2" height="1" fill="#000"/>
<rect x="1692" y="382" width="2" height="1" fill="#000"/>
<rect x="1692" y="415" width="2" height="1" fill="#000"/>
<rect x="1692" y="448" width="2" height="1" fill="#000"/>
<rect x="1692" y="481" width="2" height="1" fill="#000"/>
<rect x="1692" y="514" width="2" height="1" fill="#000"/>
<rect x="1692" y="547" width="2" height="1" fill="#000"/>
<rect x="1692" y="580" width="2" height="1" fill="#000"/>
</g>
<text x="1697.3" y="55.6" font-size="9.4" fill="#000" textLength="33" lengthAdjust="spacingAndGlyphs">112.330</text>
<text x="1697.3" y="88.6" font-size="9.4" fill="#000" textLength="33" lengthAdjust="spacingAndGlyphs">111.610</text>
<text x="1697.3" y="121.6" font-size="9.4" fill="#000" textLength="33" lengthAdjust="spacingAndGlyphs">110.910</text>
<text x="1697.3" y="154.6" font-size="9.4" fill="#000" textLength="33" lengthAdjust="spacingAndGlyphs">110.190</text>
<text x="1697.3" y="187.6" font-size="9.4" fill="#000" textLength="33" lengthAdjust="spacingAndGlyphs">109.490</text>
<text x="1697.3" y="220.6" font-size="9.4" fill="#000" textLength="33" lengthAdjust="spacingAndGlyphs">108.770</text>
<text x="1697.3" y="253.6" font-size="9.4" fill="#000" textLength="33" lengthAdjust="spacingAndGlyphs">108.050</text>
<text x="1697.3" y="286.6" font-size="9.4" fill="#000" textLength="33" lengthAdjust="spacingAndGlyphs">107.350</text>
<text x="1697.3" y="319.6" font-size="9.4" fill="#000" textLength="33" lengthAdjust="spacingAndGlyphs">106.630</text>
<text x="1697.3" y="352.6" font-size="9.4" fill="#000" textLength="33" lengthAdjust="spacingAndGlyphs">105.930</text>
<text x="1697.3" y="385.6" font-size="9.4" fill="#000" textLength="33" lengthAdjust="spacingAndGlyphs">105.210</text>
<text x="1697.3" y="418.6" font-size="9.4" fill="#000" textLength="33" lengthAdjust="spacingAndGlyphs">104.510</text>
<text x="1697.3" y="451.6" font-size="9.4" fill="#000" textLength="33" lengthAdjust="spacingAndGlyphs">103.790</text>
<text x="1697.3" y="484.6" font-size="9.4" fill="#000" textLength="33" lengthAdjust="spacingAndGlyphs">103.070</text>
<text x="1697.3" y="517.6" font-size="9.4" fill="#000" textLength="33" lengthAdjust="spacingAndGlyphs">102.370</text>
<text x="1697.3" y="550.6" font-size="9.4" fill="#000" textLength="33" lengthAdjust="spacingAndGlyphs">101.650</text>
<text x="1697.3" y="583.6" font-size="9.4" fill="#000" textLength="33" lengthAdjust="spacingAndGlyphs">100.950</text>
<g shape-rendering="crispEdges">
<rect x="1693" y="201" width="41" height="11" fill="#ff0000"/>
<rect x="1693" y="222" width="41" height="11" fill="#ff0000"/>
<rect x="1693" y="248" width="41" height="11" fill="#32cd32"/>
<rect x="1693" y="285" width="41" height="11" fill="#000000"/>
<rect x="1693" y="301" width="41" height="11" fill="#0000ff"/>
<rect x="1693" y="324" width="41" height="11" fill="#0000ff"/>
</g>
<text x="1697.3" y="210.4" font-size="9.4" fill="#fff" textLength="33" lengthAdjust="spacingAndGlyphs">108.982</text>
<text x="1697.3" y="231.4" font-size="9.4" fill="#fff" textLength="33" lengthAdjust="spacingAndGlyphs">108.530</text>
<text x="1697.3" y="257.4" font-size="9.4" fill="#fff" textLength="33" lengthAdjust="spacingAndGlyphs">107.971</text>
<text x="1697.3" y="294.4" font-size="9.4" fill="#fff" textLength="33" lengthAdjust="spacingAndGlyphs">107.190</text>
<text x="1697.3" y="310.4" font-size="9.4" fill="#fff" textLength="33" lengthAdjust="spacingAndGlyphs">106.830</text>
<text x="1697.3" y="333.4" font-size="9.4" fill="#fff" textLength="33" lengthAdjust="spacingAndGlyphs">106.335</text>
<g shape-rendering="crispEdges">
<rect x="0" y="643" width="1" height="1" fill="#c0c0c0"/>
<rect x="8" y="641" width="1" height="3" fill="#c0c0c0"/>
<rect x="16" y="640" width="1" height="4" fill="#c0c0c0"/>
<rect x="24" y="638" width="1" height="6" fill="#c0c0c0"/>
<rect x="32" y="635" width="1" height="9" fill="#c0c0c0"/>
<rect x="40" y="633" width="1" height="11" fill="#c0c0c0"/>
<rect x="48" y="632" width="1" height="12" fill="#c0c0c0"/>
<rect x="56" y="632" width="1" height="12" fill="#c0c0c0"/>
<rect x="64" y="631" width="1" height="13" fill="#c0c0c0"/>
<rect x="72" y="631" width="1" height="13" fill="#c0c0c0"/>
<rect x="80" y="632" width="1" height="12" fill="#c0c0c0"/>
<rect x="88" y="632" width="1" height="12" fill="#c0c0c0"/>
<rect x="96" y="632" width="1" height="12" fill="#c0c0c0"/>
<rect x="104" y="632" width="1" height="12" fill="#c0c0c0"/>
<rect x="112" y="632" width="1" height="12" fill="#c0c0c0"/>
<rect x="120" y="633" width="1" height="11" fill="#c0c0c0"/>
<rect x="128" y="638" width="1" height="6" fill="#c0c0c0"/>
<rect x="136" y="642" width="1" height="2" fill="#c0c0c0"/>
<rect x="144" y="643" width="1" height="1" fill="#c0c0c0"/>
<rect x="152" y="643" width="1" height="5" fill="#c0c0c0"/>
<rect x="160" y="643" width="1" height="10" fill="#c0c0c0"/>
<rect x="168" y="643" width="1" height="14" fill="#c0c0c0"/>
<rect x="176" y="643" width="1" height="15" fill="#c0c0c0"/>
<rect x="184" y="643" width="1" height="17" fill="#c0c0c0"/>
<rect x="192" y="643" width="1" height="14" fill="#c0c0c0"/>
<rect x="200" y="643" width="1" height="9" fill="#c0c0c0"/>
<rect x="208" y="643" width="1" height="3" fill="#c0c0c0"/>
<rect x="216" y="643" width="1" height="1" fill="#c0c0c0"/>
<rect x="224" y="638" width="1" height="6" fill="#c0c0c0"/>
<rect x="232" y="634" width="1" height="10" fill="#c0c0c0"/>
<rect x="240" y="631" width="1" height="13" fill="#c0c0c0"/>
<rect x="248" y="628" width="1" height="16" fill="#c0c0c0"/>
<rect x="256" y="625" width="1" height="19" fill="#c0c0c0"/>
<rect x="264" y="623" width="1" height="21" fill="#c0c0c0"/>
<rect x="272" y="622" width="1" height="22" fill="#c0c0c0"/>
<rect x="280" y="623" width="1" height="21" fill="#c0c0c0"/>
<rect x="288" y="625" width="1" height="19" fill="#c0c0c0"/>
<rect x="296" y="626" width="1" height="18" fill="#c0c0c0"/>
<rect x="304" y="631" width="1" height="13" fill="#c0c0c0"/>
<rect x="312" y="637" width="1" height="7" fill="#c0c0c0"/>
<rect x="320" y="641" width="1" height="3" fill="#c0c0c0"/>
<rect x="328" y="643" width="1" height="1" fill="#c0c0c0"/>
<rect x="336" y="643" width="1" height="1" fill="#c0c0c0"/>
<rect x="344" y="643" width="1" height="5" fill="#c0c0c0"/>
<rect x="352" y="643" width="1" height="9" fill="#c0c0c0"/>
<rect x="360" y="643" width="1" height="13" fill="#c0c0c0"/>
<rect x="368" y="643" width="1" height="14" fill="#c0c0c0"/>
<rect x="376" y="643" width="1" height="10" fill="#c0c0c0"/>
<rect x="384" y="643" width="1" height="5" fill="#c0c0c0"/>
<rect x="392" y="643" width="1" height="3" fill="#c0c0c0"/>
<rect x="400" y="641" width="1" height="3" fill="#c0c0c0"/>
<rect x="408" y="640" width="1" height="4" fill="#c0c0c0"/>
<rect x="416" y="638" width="1" height="6" fill="#c0c0c0"/>
<rect x="424" y="636" width="1" height="8" fill="#c0c0c0"/>
<rect x="432" y="635" width="1" height="9" fill="#c0c0c0"/>
<rect x="440" y="634" width="1" height="10" fill="#c0c0c0"/>
<rect x="448" y="634" width="1" height="10" fill="#c0c0c0"/>
<rect x="456" y="634" width="1" height="10" fill="#c0c0c0"/>
<rect x="464" y="633" width="1" height="11" fill="#c0c0c0"/>
<rect x="472" y="633" width="1" height="11" fill="#c0c0c0"/>
<rect x="480" y="625" width="1" height="19" fill="#c0c0c0"/>
<rect x="488" y="615" width="1" height="29" fill="#c0c0c0"/>
<rect x="496" y="610" width="1" height="34" fill="#c0c0c0"/>
<rect x="504" y="606" width="1" height="38" fill="#c0c0c0"/>
<rect x="512" y="608" width="1" height="36" fill="#c0c0c0"/>
<rect x="520" y="613" width="1" height="31" fill="#c0c0c0"/>
<rect x="528" y="616" width="1" height="28" fill="#c0c0c0"/>
<rect x="536" y="624" width="1" height="20" fill="#c0c0c0"/>
<rect x="544" y="640" width="1" height="4" fill="#c0c0c0"/>
<rect x="552" y="643" width="1" height="10" fill="#c0c0c0"/>
<rect x="560" y="643" width="1" height="15" fill="#c0c0c0"/>
<rect x="568" y="643" width="1" height="27" fill="#c0c0c0"/>
<rect x="576" y="643" width="1" height="33" fill="#c0c0c0"/>
<rect x="584" y="643" width="1" height="47" fill="#c0c0c0"/>
<rect x="592" y="643" width="1" height="62" fill="#c0c0c0"/>
<rect x="600" y="643" width="1" height="79" fill="#c0c0c0"/>
<rect x="608" y="643" width="1" height="98" fill="#c0c0c0"/>
<rect x="616" y="643" width="1" height="101" fill="#c0c0c0"/>
<rect x="624" y="643" width="1" height="103" fill="#c0c0c0"/>
<rect x="632" y="643" width="1" height="105" fill="#c0c0c0"/>
<rect x="640" y="643" width="1" height="85" fill="#c0c0c0"/>
<rect x="648" y="643" width="1" height="76" fill="#c0c0c0"/>
<rect x="656" y="643" width="1" height="71" fill="#c0c0c0"/>
<rect x="664" y="643" width="1" height="60" fill="#c0c0c0"/>
<rect x="672" y="643" width="1" height="45" fill="#c0c0c0"/>
<rect x="680" y="643" width="1" height="17" fill="#c0c0c0"/>
<rect x="688" y="638" width="1" height="6" fill="#c0c0c0"/>
<rect x="696" y="625" width="1" height="19" fill="#c0c0c0"/>
<rect x="704" y="613" width="1" height="31" fill="#c0c0c0"/>
<rect x="712" y="602" width="1" height="42" fill="#c0c0c0"/>
<rect x="720" y="595" width="1" height="49" fill="#c0c0c0"/>
<rect x="728" y="600" width="1" height="44" fill="#c0c0c0"/>
<rect x="736" y="612" width="1" height="32" fill="#c0c0c0"/>
<rect x="744" y="624" width="1" height="20" fill="#c0c0c0"/>
<rect x="752" y="630" width="1" height="14" fill="#c0c0c0"/>
<rect x="760" y="638" width="1" height="6" fill="#c0c0c0"/>
<rect x="768" y="643" width="1" height="1" fill="#c0c0c0"/>
<rect x="776" y="643" width="1" height="4" fill="#c0c0c0"/>
<rect x="784" y="643" width="1" height="4" fill="#c0c0c0"/>
<rect x="792" y="643" width="1" height="2" fill="#c0c0c0"/>
<rect x="800" y="640" width="1" height="4" fill="#c0c0c0"/>
<rect x="808" y="638" width="1" height="6" fill="#c0c0c0"/>
<rect x="816" y="637" width="1" height="7" fill="#c0c0c0"/>
<rect x="824" y="639" width="1" height="5" fill="#c0c0c0"/>
<rect x="832" y="640" width="1" height="4" fill="#c0c0c0"/>
<rect x="840" y="643" width="1" height="1" fill="#c0c0c0"/>
<rect x="848" y="643" width="1" height="10" fill="#c0c0c0"/>
<rect x="856" y="643" width="1" height="12" fill="#c0c0c0"/>
<rect x="864" y="643" width="1" height="12" fill="#c0c0c0"/>
<rect x="872" y="643" width="1" height="13" fill="#c0c0c0"/>
<rect x="880" y="643" width="1" height="14" fill="#c0c0c0"/>
<rect x="888" y="643" width="1" height="15" fill="#c0c0c0"/>
<rect x="896" y="643" width="1" height="15" fill="#c0c0c0"/>
<rect x="904" y="643" width="1" height="15" fill="#c0c0c0"/>
<rect x="912" y="643" width="1" height="15" fill="#c0c0c0"/>
<rect x="920" y="643" width="1" height="15" fill="#c0c0c0"/>
<rect x="928" y="643" width="1" height="16" fill="#c0c0c0"/>
<rect x="936" y="643" width="1" height="18" fill="#c0c0c0"/>
<rect x="944" y="643" width="1" height="22" fill="#c0c0c0"/>
<rect x="952" y="643" width="1" height="25" fill="#c0c0c0"/>
<rect x="960" y="643" width="1" height="24" fill="#c0c0c0"/>
<rect x="968" y="643" width="1" height="25" fill="#c0c0c0"/>
<rect x="976" y="643" width="1" height="27" fill="#c0c0c0"/>
<rect x="984" y="643" width="1" height="28" fill="#c0c0c0"/>
<rect x="992" y="643" width="1" height="30" fill="#c0c0c0"/>
<rect x="1000" y="643" width="1" height="32" fill="#c0c0c0"/>
<rect x="1008" y="643" width="1" height="33" fill="#c0c0c0"/>
<rect x="1016" y="643" width="1" height="31" fill="#c0c0c0"/>
<rect x="1024" y="643" width="1" height="28" fill="#c0c0c0"/>
<rect x="1032" y="643" width="1" height="22" fill="#c0c0c0"/>
<rect x="1040" y="643" width="1" height="18" fill="#c0c0c0"/>
<rect x="1048" y="643" width="1" height="17" fill="#c0c0c0"/>
<rect x="1056" y="643" width="1" height="14" fill="#c0c0c0"/>
<rect x="1064" y="643" width="1" height="12" fill="#c0c0c0"/>
<rect x="1072" y="643" width="1" height="10" fill="#c0c0c0"/>
<rect x="1080" y="643" width="1" height="7" fill="#c0c0c0"/>
<rect x="1088" y="643" width="1" height="3" fill="#c0c0c0"/>
<rect x="1096" y="643" width="1" height="2" fill="#c0c0c0"/>
<rect x="1104" y="642" width="1" height="2" fill="#c0c0c0"/>
<rect x="1112" y="641" width="1" height="3" fill="#c0c0c0"/>
<rect x="1120" y="639" width="1" height="5" fill="#c0c0c0"/>
<rect x="1128" y="638" width="1" height="6" fill="#c0c0c0"/>
<rect x="1136" y="639" width="1" height="5" fill="#c0c0c0"/>
<rect x="1144" y="637" width="1" height="7" fill="#c0c0c0"/>
<rect x="1152" y="637" width="1" height="7" fill="#c0c0c0"/>
<rect x="1160" y="636" width="1" height="8" fill="#c0c0c0"/>
<rect x="1168" y="636" width="1" height="8" fill="#c0c0c0"/>
<rect x="1176" y="637" width="1" height="7" fill="#c0c0c0"/>
<rect x="1184" y="631" width="1" height="13" fill="#c0c0c0"/>
<rect x="1192" y="625" width="1" height="19" fill="#c0c0c0"/>
<rect x="1200" y="620" width="1" height="24" fill="#c0c0c0"/>
<rect x="1208" y="613" width="1" height="31" fill="#c0c0c0"/>
<rect x="1216" y="609" width="1" height="35" fill="#c0c0c0"/>
<rect x="1224" y="612" width="1" height="32" fill="#c0c0c0"/>
<rect x="1232" y="619" width="1" height="25" fill="#c0c0c0"/>
<rect x="1240" y="629" width="1" height="15" fill="#c0c0c0"/>
<rect x="1248" y="638" width="1" height="6" fill="#c0c0c0"/>
<rect x="1256" y="641" width="1" height="3" fill="#c0c0c0"/>
<rect x="1264" y="643" width="1" height="1" fill="#c0c0c0"/>
<rect x="1272" y="643" width="1" height="4" fill="#c0c0c0"/>
<rect x="1280" y="643" width="1" height="6" fill="#c0c0c0"/>
<rect x="1288" y="643" width="1" height="10" fill="#c0c0c0"/>
<rect x="1296" y="643" width="1" height="13" fill="#c0c0c0"/>
<rect x="1304" y="643" width="1" height="14" fill="#c0c0c0"/>
<rect x="1312" y="643" width="1" height="17" fill="#c0c0c0"/>
<rect x="1320" y="643" width="1" height="18" fill="#c0c0c0"/>
<rect x="1328" y="643" width="1" height="22" fill="#c0c0c0"/>
<rect x="1336" y="643" width="1" height="21" fill="#c0c0c0"/>
<rect x="1344" y="643" width="1" height="18" fill="#c0c0c0"/>
<rect x="1352" y="643" width="1" height="16" fill="#c0c0c0"/>
<rect x="1360" y="643" width="1" height="14" fill="#c0c0c0"/>
<rect x="1368" y="643" width="1" height="11" fill="#c0c0c0"/>
<rect x="1376" y="643" width="1" height="7" fill="#c0c0c0"/>
<rect x="1384" y="643" width="1" height="6" fill="#c0c0c0"/>
<rect x="1392" y="643" width="1" height="5" fill="#c0c0c0"/>
<rect x="1400" y="643" width="1" height="4" fill="#c0c0c0"/>
<rect x="1408" y="643" width="1" height="2" fill="#c0c0c0"/>
<rect x="1416" y="643" width="1" height="2" fill="#c0c0c0"/>
<rect x="1424" y="643" width="1" height="2" fill="#c0c0c0"/>
<rect x="1432" y="643" width="1" height="2" fill="#c0c0c0"/>
<rect x="1440" y="643" width="1" height="2" fill="#c0c0c0"/>
<rect x="1692" y="587" width="2" height="1" fill="#000"/>
<rect x="1692" y="643" width="2" height="1" fill="#000"/>
<rect x="1692" y="754" width="2" height="1" fill="#000"/>
</g>
<polyline points="0.0,638.4 8.0,640.2 16.0,640.7 24.0,640.9 32.0,640.2 40.0,639.5 48.0,638.4 56.0,637.5 64.0,635.6 72.0,634.0 80.0,632.9 88.0,632.2 96.0,631.5 104.0,631.5 112.0,631.5 120.0,631.5 128.0,632.2 136.0,633.3 144.0,634.9 152.0,637.5 160.0,639.5 168.0,642.5 176.0,646.0 184.0,649.0 192.0,650.6 200.0,652.2 208.0,652.4 216.0,652.4 224.0,651.7 232.0,649.4 240.0,646.4 248.0,643.2 256.0,639.8 264.0,635.6 272.0,631.7 280.0,629.2 288.0,627.6 296.0,625.7 304.0,625.3 312.0,626.0 320.0,627.1 328.0,629.2 336.0,632.2 344.0,634.0 352.0,638.4 360.0,640.9 368.0,644.4 376.0,646.7 384.0,647.8 392.0,649.4 400.0,648.3 408.0,647.8 416.0,647.1 424.0,644.8 432.0,643.2 440.0,640.2 448.0,637.9 456.0,636.8 464.0,635.2 472.0,634.5 480.0,633.3 488.0,629.9 496.0,627.6 504.0,624.6 512.0,621.1 520.0,618.8 528.0,617.7 536.0,616.5 544.0,616.5 552.0,618.8 560.0,623.7 568.0,629.9 576.0,639.1 584.0,648.3 592.0,658.6 600.0,670.2 608.0,682.8 616.0,695.0 624.0,704.7 632.0,715.0 640.0,722.4 648.0,726.5 656.0,729.3 664.0,729.3 672.0,725.4 680.0,716.6 688.0,704.7 696.0,692.0 704.0,677.1 712.0,662.1 720.0,648.3 728.0,636.8 736.0,625.7 744.0,618.8 752.0,614.9 760.0,614.5 768.0,617.2 776.0,620.2 784.0,625.3 792.0,630.6 800.0,635.6 808.0,638.4 816.0,640.2 824.0,641.4 832.0,641.4 840.0,641.4 848.0,642.5 856.0,643.7 864.0,644.8 872.0,645.3 880.0,647.8 888.0,650.6 896.0,651.7 904.0,654.0 912.0,656.3 920.0,656.8 928.0,657.5 936.0,658.6 944.0,658.6 952.0,660.5 960.0,661.4 968.0,662.6 976.0,663.7 984.0,664.9 992.0,665.6 1000.0,668.3 1008.0,669.5 1016.0,670.6 1024.0,670.8 1032.0,670.6 1040.0,670.2 1048.0,669.5 1056.0,667.2 1064.0,664.9 1072.0,663.7 1080.0,659.8 1088.0,657.5 1096.0,654.5 1104.0,652.2 1112.0,650.1 1120.0,647.8 1128.0,645.5 1136.0,643.2 1144.0,641.4 1152.0,640.2 1160.0,638.4 1168.0,638.4 1176.0,637.5 1184.0,636.1 1192.0,634.5 1200.0,632.2 1208.0,629.9 1216.0,626.4 1224.0,623.7 1232.0,621.4 1240.0,620.7 1248.0,621.4 1256.0,622.3 1264.0,624.6 1272.0,627.6 1280.0,631.0 1288.0,636.8 1296.0,640.9 1304.0,644.8 1312.0,649.0 1320.0,651.7 1328.0,654.0 1336.0,656.3 1344.0,658.2 1352.0,659.3 1360.0,660.3 1368.0,659.3 1376.0,658.6 1384.0,657.5 1392.0,656.8 1400.0,654.5 1408.0,652.4 1416.0,650.6 1424.0,648.3 1432.0,647.1 1440.0,646.0" fill="none" stroke="#ff0000" stroke-width="1" stroke-dasharray="3 2.6" shape-rendering="crispEdges"/>
<text x="4" y="597.6" font-size="9.4" fill="#000" textLength="134" lengthAdjust="spacingAndGlyphs">MACD(12,26,9) -0.0331 -0.0372</text>
<text x="1695" y="595.5" font-size="9.4" fill="#000" textLength="28.5" lengthAdjust="spacingAndGlyphs">0.8034</text>
<text x="1695" y="646.6" font-size="9.4" fill="#000" textLength="18.5" lengthAdjust="spacingAndGlyphs">0.00</text>
<text x="1695" y="751.5" font-size="9.4" fill="#000" textLength="31" lengthAdjust="spacingAndGlyphs">-1.5784</text>
<g shape-rendering="crispEdges">
<line x1="0" y1="793.5" x2="1691" y2="793.5" stroke="#c0c0c0" stroke-width="1" stroke-dasharray="3 3" stroke-dashoffset="-1"/>
<line x1="0" y1="844.5" x2="1691" y2="844.5" stroke="#c0c0c0" stroke-width="1" stroke-dasharray="3 3" stroke-dashoffset="-1"/>
<line x1="0" y1="905.5" x2="1691" y2="905.5" stroke="#c0c0c0" stroke-width="1" stroke-dasharray="3 3" stroke-dashoffset="-1"/>
<rect x="1692" y="759" width="2" height="1" fill="#000"/>
<rect x="1692" y="930" width="2" height="1" fill="#000"/>
</g>
<polyline points="0.0,854.8 8.0,828.3 16.0,831.3 24.0,829.0 32.0,824.4 40.0,827.2 48.0,826.0 56.0,832.3 64.0,830.2 72.0,829.5 80.0,834.1 88.0,836.4 96.0,835.3 104.0,829.5 112.0,836.4 120.0,834.6 128.0,857.8 136.0,866.3 144.0,860.6 152.0,865.6 160.0,878.3 168.0,879.4 176.0,860.6 184.0,870.2 192.0,841.0 200.0,831.3 208.0,830.2 216.0,830.2 224.0,821.4 232.0,826.5 240.0,825.4 248.0,819.1 256.0,821.4 264.0,820.3 272.0,820.3 280.0,830.2 288.0,835.9 296.0,842.2 304.0,851.4 312.0,862.2 320.0,858.3 328.0,851.4 336.0,855.3 344.0,858.3 352.0,870.5 360.0,869.1 368.0,860.6 376.0,837.1 384.0,829.0 392.0,827.2 400.0,832.9 408.0,836.4 416.0,833.4 424.0,831.3 432.0,831.3 440.0,834.1 448.0,834.1 456.0,832.9 464.0,832.3 472.0,829.5 480.0,804.2 488.0,793.8 496.0,807.2 504.0,808.3 512.0,827.2 520.0,841.5 528.0,840.3 536.0,853.7 544.0,876.2 552.0,878.3 560.0,862.4 568.0,876.2 576.0,865.2 584.0,877.1 592.0,882.9 600.0,888.6 608.0,893.2 616.0,869.3 624.0,872.1 632.0,870.2 640.0,840.3 648.0,850.9 656.0,853.2 664.0,844.5 672.0,838.0 680.0,822.6 688.0,824.2 696.0,830.2 704.0,827.2 712.0,826.0 720.0,827.9 728.0,842.2 736.0,850.2 744.0,853.7 752.0,848.4 760.0,852.1 768.0,853.7 776.0,847.9 784.0,844.9 792.0,841.0 800.0,838.0 808.0,842.2 816.0,840.3 824.0,845.1 832.0,846.3 840.0,853.2 848.0,857.1 856.0,851.4 864.0,848.4 872.0,851.4 880.0,850.2 888.0,850.2 896.0,850.2 904.0,848.4 912.0,851.4 920.0,854.1 928.0,852.1 936.0,856.0 944.0,863.3 952.0,865.2 960.0,852.1 968.0,858.3 976.0,860.1 984.0,860.1 992.0,864.0 1000.0,867.5 1008.0,864.0 1016.0,856.0 1024.0,851.4 1032.0,838.2 1040.0,846.1 1048.0,850.2 1056.0,842.2 1064.0,843.3 1072.0,845.1 1080.0,841.0 1088.0,833.4 1096.0,838.2 1104.0,837.1 1112.0,839.2 1120.0,835.3 1128.0,837.1 1136.0,842.2 1144.0,835.3 1152.0,839.2 1160.0,835.3 1168.0,838.7 1176.0,843.3 1184.0,817.3 1192.0,814.1 1200.0,812.2 1208.0,806.5 1216.0,806.5 1224.0,837.6 1232.0,849.1 1240.0,861.3 1248.0,864.5 1256.0,852.1 1264.0,853.7 1272.0,850.2 1280.0,852.1 1288.0,860.6 1296.0,857.1 1304.0,859.4 1312.0,860.6 1320.0,858.3 1328.0,867.5 1336.0,852.5 1344.0,849.5 1352.0,849.5 1360.0,848.4 1368.0,839.9 1376.0,831.3 1384.0,845.6 1392.0,843.3 1400.0,843.3 1408.0,841.5 1416.0,846.3 1424.0,841.5 1432.0,848.4 1440.0,850.2" fill="none" stroke="#1e90ff" stroke-width="1" shape-rendering="crispEdges"/>
<text x="4" y="769.6" font-size="9.4" fill="#000" textLength="67" lengthAdjust="spacingAndGlyphs">RSI(14) 46.6375</text>
<text x="1695" y="767.6" font-size="9.4" fill="#000" textLength="14.5" lengthAdjust="spacingAndGlyphs">100</text>
<text x="1695" y="797" font-size="9.4" fill="#000" textLength="9.5" lengthAdjust="spacingAndGlyphs">80</text>
<text x="1695" y="848" font-size="9.4" fill="#000" textLength="9.5" lengthAdjust="spacingAndGlyphs">50</text>
<text x="1695" y="909" font-size="9.4" fill="#000" textLength="9.5" lengthAdjust="spacingAndGlyphs">15</text>
<text x="1695" y="927.5" font-size="9.4" fill="#000" textLength="5" lengthAdjust="spacingAndGlyphs">0</text>
<g shape-rendering="crispEdges">
<rect x="0" y="932" width="1" height="3" fill="#000"/>
<rect x="64" y="932" width="1" height="3" fill="#000"/>
<rect x="128" y="932" width="1" height="3" fill="#000"/>
<rect x="192" y="932" width="1" height="3" fill="#000"/>
<rect x="256" y="932" width="1" height="3" fill="#000"/>
<rect x="320" y="932" width="1" height="3" fill="#000"/>
<rect x="384" y="932" width="1" height="3" fill="#000"/>
<rect x="448" y="932" width="1" height="3" fill="#000"/>
<rect x="512" y="932" width="1" height="3" fill="#000"/>
<rect x="576" y="932" width="1" height="3" fill="#000"/>
<rect x="640" y="932" width="1" height="3" fill="#000"/>
<rect x="704" y="932" width="1" height="3" fill="#000"/>
<rect x="768" y="932" width="1" height="3" fill="#000"/>
<rect x="832" y="932" width="1" height="3" fill="#000"/>
<rect x="896" y="932" width="1" height="3" fill="#000"/>
<rect x="960" y="932" width="1" height="3" fill="#000"/>
<rect x="1024" y="932" width="1" height="3" fill="#000"/>
<rect x="1088" y="932" width="1" height="3" fill="#000"/>
<rect x="1152" y="932" width="1" height="3" fill="#000"/>
<rect x="1216" y="932" width="1" height="3" fill="#000"/>
<rect x="1280" y="932" width="1" height="3" fill="#000"/>
<rect x="1344" y="932" width="1" height="3" fill="#000"/>
<rect x="1408" y="932" width="1" height="3" fill="#000"/>
</g>
<text x="-0.5" y="943.4" font-size="9.1" fill="#000">11 Dec 2019</text>
<text x="63.5" y="943.4" font-size="9.1" fill="#000">20 Dec 2019</text>
<text x="127.5" y="943.4" font-size="9.1" fill="#000">30 Dec 2019</text>
<text x="191.5" y="943.4" font-size="9.1" fill="#000">8 Jan 2020</text>
<text x="255.5" y="943.4" font-size="9.1" fill="#000">17 Jan 2020</text>
<text x="319.5" y="943.4" font-size="9.1" fill="#000">27 Jan 2020</text>
<text x="383.5" y="943.4" font-size="9.1" fill="#000">5 Feb 2020</text>
<text x="447.5" y="943.4" font-size="9.1" fill="#000">14 Feb 2020</text>
<text x="511.5" y="943.4" font-size="9.1" fill="#000">24 Feb 2020</text>
<text x="575.5" y="943.4" font-size="9.1" fill="#000">4 Mar 2020</text>
<text x="639.5" y="943.4" font-size="9.1" fill="#000">13 Mar 2020</text>
<text x="703.5" y="943.4" font-size="9.1" fill="#000">23 Mar 2020</text>
<text x="767.5" y="943.4" font-size="9.1" fill="#000">1 Apr 2020</text>
<text x="831.5" y="943.4" font-size="9.1" fill="#000">12 Apr 2020</text>
<text x="895.5" y="943.4" font-size="9.1" fill="#000">21 Apr 2020</text>
<text x="959.5" y="943.4" font-size="9.1" fill="#000">30 Apr 2020</text>
<text x="1023.5" y="943.4" font-size="9.1" fill="#000">10 May 2020</text>
<text x="1087.5" y="943.4" font-size="9.1" fill="#000">19 May 2020</text>
<text x="1151.5" y="943.4" font-size="9.1" fill="#000">28 May 2020</text>
<text x="1215.5" y="943.4" font-size="9.1" fill="#000">7 Jun 2020</text>
<text x="1279.5" y="943.4" font-size="9.1" fill="#000">16 Jun 2020</text>
<text x="1343.5" y="943.4" font-size="9.1" fill="#000">25 Jun 2020</text>
<text x="1407.5" y="943.4" font-size="9.1" fill="#000">5 Jul 2020</text>
<rect x="0" y="0" width="1738" height="26" fill="#f0f0f0"/><rect x="0" y="0" width="1738" height="1" fill="#fcfcfc"/>
<rect x="0" y="26" width="1738" height="1" fill="#a0a0a0" shape-rendering="crispEdges"/><rect x="0" y="27" width="1738" height="1" fill="#696969" shape-rendering="crispEdges"/>
<rect x="-2" y="7.5" width="16.2" height="13" rx="1" fill="#fff" stroke="#3577c6" stroke-width="1"/><rect x="0" y="8.5" width="2.3" height="11" fill="#3a7fd0"/><rect x="1" y="10" width="1" height="8" fill="#333"/>
<rect x="4" y="9.6" width="1.2" height="1.2" fill="#e02020"/><rect x="6" y="9.9" width="7" height="0.7" fill="#b8d0f4"/>
<rect x="4" y="11.899999999999999" width="1.2" height="1.2" fill="#202020"/><rect x="6" y="12.2" width="7" height="0.7" fill="#b8d0f4"/>
<rect x="4" y="14.2" width="1.2" height="1.2" fill="#202020"/><rect x="6" y="14.5" width="7" height="0.7" fill="#b8d0f4"/>
<rect x="4" y="16.5" width="1.2" height="1.2" fill="#e02020"/><rect x="6" y="16.8" width="7" height="0.7" fill="#b8d0f4"/>
<rect x="28" y="6.5" width="11" height="12.5" rx="1" fill="#f4f0e6" stroke="#b0a898" stroke-width="1"/><path d="M31,9 v7 M30,11 h1 M35.5,8.5 v8 M35.5,10 h1.2" stroke="#707070" stroke-width="1" fill="none"/><circle cx="35" cy="14" r="4.6" fill="#cfe2fb" fill-opacity="0.75" stroke="#5f95dc" stroke-width="1.3"/><path d="M38.6,17.8 L43.6,22.6" stroke="#c9961a" stroke-width="2.4" stroke-linecap="round"/>
<rect x="52" y="3" width="1" height="21" fill="#a0a0a0" shape-rendering="crispEdges"/><rect x="53" y="3" width="1" height="21" fill="#fff" shape-rendering="crispEdges"/>
<path d="M62.5,7 h7.5 l3.5,3.5 v9 h-11 z" fill="#fff" stroke="#7a7a7a" stroke-width="1"/><path d="M70,7 v3.5 h3.5" fill="none" stroke="#7a7a7a" stroke-width="1"/><rect x="64.5" y="9" width="3" height="1.6" fill="#888"/><path d="M64.5,13.5 h6 M64.5,16 h4" stroke="#888" stroke-width="1"/><path d="M70.5,12.2 h3.4 v4 h4 v3.4 h-4 v4 h-3.4 v-4 h-4 v-3.4 h4 z" fill="#2fd02f" stroke="#128a12" stroke-width="0.9"/>
<text x="80.5" y="17.2" font-size="12" fill="#000" font-family="&quot;Liberation Sans&quot;, &quot;Noto Sans CJK SC&quot;, sans-serif" textLength="36.5" lengthAdjust="spacingAndGlyphs">新订单</text>
<defs><linearGradient id="gold" x1="0" y1="0" x2="1" y2="1"><stop offset="0" stop-color="#d89a10"/><stop offset="0.45" stop-color="#fbe060"/><stop offset="1" stop-color="#d8980e"/></linearGradient><linearGradient id="cl" x1="0" y1="0" x2="0" y2="1"><stop offset="0" stop-color="#ffffff"/><stop offset="1" stop-color="#b4c4de"/></linearGradient></defs>
<path d="M134.8,7.1 L144.9,15.2 L137,22.1 L129,15.9 Q133.5,12.5 134.8,7.1 Z" fill="url(#gold)" stroke="#b27a12" stroke-width="1.1" stroke-linejoin="round"/><path d="M130.2,16.6 L137.2,21 " stroke="#f0c84a" stroke-width="1.6"/><path d="M138.2,21.3 L144.6,15.9" stroke="#efe2b0" stroke-width="1.2"/>
<path d="M159.3,7.8 L162.5,6.2 L170,6.6 L170,14.5 L159.3,14.8 Z" fill="#1f9bf2" stroke="#1478d8" stroke-width="0.6"/><path d="M159.3,7.8 L163.2,8.8 L170,8.2 M163.2,8.8 V14.6" stroke="#d4ecff" stroke-width="0.8" fill="none"/><rect x="164.3" y="10.4" width="4.6" height="1.4" fill="#e6f4ff"/><path d="M160.2,21.6 a3.1,3.1 0 0 1 -0.3,-6.1 a3.4,3.4 0 0 1 5.8,-1.2 a3.1,3.1 0 0 1 4.6,1.6 a2.9,2.9 0 0 1 -0.3,5.7 z" fill="url(#cl)" stroke="#4f6fae" stroke-width="0.9"/>
<defs><radialGradient id="sg" cx="193.1" cy="13.8" r="8" gradientUnits="userSpaceOnUse"><stop offset="0" stop-color="#e8f4e8"/><stop offset="1" stop-color="#4aa84a"/></radialGradient></defs>
<path d="M193.1,13.8 L197.6,7.2 A8,8 0 0 1 193.1,21.8 Z" fill="url(#sg)" opacity="0.9"/>
<circle cx="193.1" cy="13.8" r="7.6" fill="none" stroke="#4a7ad8" stroke-opacity="0.55" stroke-width="1"/><circle cx="193.1" cy="13.8" r="5" fill="none" stroke="#4a7ad8" stroke-opacity="0.6" stroke-width="1"/><circle cx="193.1" cy="13.4" r="2.1" fill="#2a5cd0"/><rect x="192.9" y="14" width="1.5" height="7.8" fill="#1ea81e"/>
<path d="M212.1,13.6 L228,12.8 L226,17 L219.7,21.4 Z" fill="#f6d850" stroke="#d4a418" stroke-width="0.8" stroke-linejoin="round"/><ellipse cx="220" cy="10.6" rx="8" ry="2.8" fill="#58aee0" stroke="#2484b8" stroke-width="0.8"/><path d="M216,10.2 C216,5.2 224,5.2 224,10.2 Z" fill="#7cc4ec" stroke="#2484b8" stroke-width="0.8"/><circle cx="224.5" cy="17.6" r="4.1" fill="#e6280e" stroke="#b01808" stroke-width="0.5"/><rect x="222.8" y="15.9" width="3.4" height="3.4" fill="#fff"/>
<text x="233.6" y="17.4" font-size="12" fill="#000" font-family="&quot;Liberation Sans&quot;, &quot;Noto Sans CJK SC&quot;, sans-serif" textLength="46.5" lengthAdjust="spacingAndGlyphs">自动交易</text>
<rect x="288" y="1" width="1" height="25" fill="#a0a0a0" shape-rendering="crispEdges"/><rect x="289" y="1" width="1" height="25" fill="#fff" shape-rendering="crispEdges"/>
<rect x="292" y="4" width="3" height="1" fill="#a6a6a6" shape-rendering="crispEdges"/>
<rect x="292" y="6" width="3" height="1" fill="#a6a6a6" shape-rendering="crispEdges"/>
<rect x="292" y="8" width="3" height="1" fill="#a6a6a6" shape-rendering="crispEdges"/>
<rect x="292" y="10" width="3" height="1" fill="#a6a6a6" shape-rendering="crispEdges"/>
<rect x="292" y="12" width="3" height="1" fill="#a6a6a6" shape-rendering="crispEdges"/>
<rect x="292" y="14" width="3" height="1" fill="#a6a6a6" shape-rendering="crispEdges"/>
<rect x="292" y="16" width="3" height="1" fill="#a6a6a6" shape-rendering="crispEdges"/>
<rect x="292" y="18" width="3" height="1" fill="#a6a6a6" shape-rendering="crispEdges"/>
<rect x="292" y="20" width="3" height="1" fill="#a6a6a6" shape-rendering="crispEdges"/>
<rect x="292" y="22" width="3" height="1" fill="#a6a6a6" shape-rendering="crispEdges"/>
<g shape-rendering="crispEdges" fill="#585858"><rect x="306" y="8" width="1" height="14"/><rect x="305" y="9" width="3" height="1"/><rect x="304" y="19" width="14" height="1"/><rect x="316" y="18" width="1" height="3"/></g>
<g shape-rendering="crispEdges" fill="#0a8a0a"><rect x="312" y="9" width="1" height="9"/><rect x="310" y="16" width="2" height="1"/><rect x="313" y="10" width="2" height="1"/></g>
<g shape-rendering="crispEdges"><rect x="326" y="2" width="25" height="22" fill="#f9f9f9"/><rect x="326" y="2" width="25" height="1" fill="#a0a0a0"/><rect x="326" y="2" width="1" height="22" fill="#a0a0a0"/><rect x="350" y="2" width="1" height="22" fill="#fff"/><rect x="326" y="23" width="25" height="1" fill="#fff"/></g>
<g shape-rendering="crispEdges" fill="#585858"><rect x="334" y="8" width="1" height="14"/><rect x="333" y="9" width="3" height="1"/><rect x="332" y="19" width="14" height="1"/><rect x="344" y="18" width="1" height="3"/></g>
<path d="M340.5,6.5 V18" stroke="#157a2c" stroke-width="1.2"/><rect x="338.6" y="9" width="3.8" height="6.6" fill="#2edc4e" stroke="#157a2c" stroke-width="0.9"/>
<g shape-rendering="crispEdges" fill="#585858"><rect x="362" y="8" width="1" height="14"/><rect x="361" y="9" width="3" height="1"/><rect x="360" y="19" width="14" height="1"/><rect x="372" y="18" width="1" height="3"/></g>
<path d="M361.5,17 C364,14 366,11 368,11.3 C370,11.8 371.5,14.5 374,15.3" stroke="#2aa046" stroke-width="1.3" fill="none"/>
<rect x="383" y="3" width="1" height="21" fill="#a0a0a0" shape-rendering="crispEdges"/><rect x="384" y="3" width="1" height="21" fill="#fff" shape-rendering="crispEdges"/>
<path d="M401.1,15.3 L406.7,20.6" stroke="#c9a21e" stroke-width="2.6" stroke-linecap="round"/><circle cx="397.5" cy="11.6" r="5.3" fill="#d4e6fb" stroke="#3c82d8" stroke-width="1.4"/>
<path d="M394.7,11.6 h5.6" stroke="#2f72c8" stroke-width="1.8"/>
<path d="M397.5,8.8 v5.6" stroke="#2f72c8" stroke-width="1.8"/>
<path d="M429.1,15.3 L434.7,20.6" stroke="#c9a21e" stroke-width="2.6" stroke-linecap="round"/><circle cx="425.5" cy="11.6" r="5.3" fill="#d4e6fb" stroke="#3c82d8" stroke-width="1.4"/>
<path d="M422.7,11.6 h5.6" stroke="#2f72c8" stroke-width="1.8"/>
<rect x="448" y="6" width="7.6" height="7.6" fill="#4ba82c"/><rect x="448" y="6" width="7.6" height="2" fill="#2c7c12"/><rect x="449.2" y="9.2" width="5.2" height="3.2" fill="#f4f8ff"/><rect x="449.2" y="10.5" width="5.2" height="0.7" fill="#4ba82c"/>
<rect x="456.2" y="6" width="7.6" height="7.6" fill="#2b6fd8"/><rect x="456.2" y="6" width="7.6" height="2" fill="#1a48a8"/><rect x="457.4" y="9.2" width="5.2" height="3.2" fill="#f4f8ff"/><rect x="457.4" y="10.5" width="5.2" height="0.7" fill="#2b6fd8"/>
<rect x="448" y="14.2" width="7.6" height="7.6" fill="#2b6fd8"/><rect x="448" y="14.2" width="7.6" height="2" fill="#1a48a8"/><rect x="449.2" y="17.4" width="5.2" height="3.2" fill="#f4f8ff"/><rect x="449.2" y="18.7" width="5.2" height="0.7" fill="#2b6fd8"/>
<rect x="456.2" y="14.2" width="7.6" height="7.6" fill="#4ba82c"/><rect x="456.2" y="14.2" width="7.6" height="2" fill="#2c7c12"/><rect x="457.4" y="17.4" width="5.2" height="3.2" fill="#f4f8ff"/><rect x="457.4" y="18.7" width="5.2" height="0.7" fill="#4ba82c"/>
<rect x="473" y="3" width="1" height="21" fill="#a0a0a0" shape-rendering="crispEdges"/><rect x="474" y="3" width="1" height="21" fill="#fff" shape-rendering="crispEdges"/>
<g shape-rendering="crispEdges"><rect x="478" y="2" width="25" height="22" fill="#f9f9f9"/><rect x="478" y="2" width="25" height="1" fill="#a0a0a0"/><rect x="478" y="2" width="1" height="22" fill="#a0a0a0"/><rect x="502" y="2" width="1" height="22" fill="#fff"/><rect x="478" y="23" width="25" height="1" fill="#fff"/></g>
<g shape-rendering="crispEdges" fill="#585858"><rect x="486" y="8" width="1" height="14"/><rect x="485" y="9" width="3" height="1"/><rect x="484" y="19" width="14" height="1"/><rect x="496" y="18" width="1" height="3"/></g>
<polygon points="491.5,10 491.5,16.5 496.5,13.2" fill="none" stroke="#2aa83a" stroke-width="1.3"/>
<g shape-rendering="crispEdges"><rect x="506" y="2" width="25" height="22" fill="#f9f9f9"/><rect x="506" y="2" width="25" height="1" fill="#a0a0a0"/><rect x="506" y="2" width="1" height="22" fill="#a0a0a0"/><rect x="530" y="2" width="1" height="22" fill="#fff"/><rect x="506" y="23" width="25" height="1" fill="#fff"/></g>
<g shape-rendering="crispEdges" fill="#585858"><rect x="514" y="8" width="1" height="14"/><rect x="513" y="9" width="3" height="1"/><rect x="512" y="19" width="14" height="1"/><rect x="524" y="18" width="1" height="3"/></g>
<path d="M520.3,8 V18.5" stroke="#1f62b8" stroke-width="1.3"/><path d="M526.5,13.3 H522 M524.2,11 L521.8,13.3 L524.2,15.6" stroke="#d8420c" stroke-width="1.2" fill="none"/>
<rect x="535" y="3" width="1" height="21" fill="#a0a0a0" shape-rendering="crispEdges"/><rect x="536" y="3" width="1" height="21" fill="#fff" shape-rendering="crispEdges"/>
<defs><linearGradient id="pl" x1="0" y1="0" x2="0" y2="1"><stop offset="0" stop-color="#58ee58"/><stop offset="1" stop-color="#12b412"/></linearGradient><radialGradient id="ck" cx="0.5" cy="0.35" r="0.7"><stop offset="0" stop-color="#4aa0f4"/><stop offset="1" stop-color="#1458c0"/></radialGradient></defs>
<path d="M545.7,6.7 h7.3 l3.5,3.5 v9.3 h-10.8 z" fill="#fbfbfb" stroke="#8c8c8c" stroke-width="0.9"/><path d="M553,6.7 v3.5 h3.5" fill="#e4e4e4" stroke="#8c8c8c" stroke-width="0.8"/><text x="547.3" y="16.6" font-size="10.5" font-style="italic" font-family="&quot;Liberation Serif&quot;, serif" fill="#2a2a2a">f</text><path d="M553.3,12.3 h3.5 v3.9 h3.9 v3.5 h-3.9 v3.9 h-3.5 v-3.9 h-3.9 v-3.5 h3.9 z" fill="url(#pl)" stroke="#0c8a0c" stroke-width="0.9"/>
<polygon points="566.8,13 571.8,13 569.3,16" fill="#000"/>
<circle cx="591" cy="13.9" r="7.8" fill="url(#ck)"/><circle cx="591" cy="13.9" r="5.5" fill="#f4f7fb"/><path d="M591,10.3 V14 H593.8" stroke="#202020" stroke-width="1" fill="none"/><path d="M591,8.9 v0.9 M591,18.1 v0.9 M586,13.9 h0.9 M595.1,13.9 h0.9" stroke="#6a7a9a" stroke-width="0.8"/>
<polygon points="605.8,13 610.8,13 608.3,16" fill="#000"/>
<rect x="622.5" y="7.5" width="15" height="13" fill="#fafcff" stroke="#2f6ec8" stroke-width="1.1"/><rect x="622.5" y="7.5" width="15" height="2.2" fill="#4a90e4"/><path d="M622.5,14.5 h15" stroke="#2f6ec8" stroke-width="1"/><path d="M624.5,12.9 h2 l1.5,-1.3 h2 l1.5,1 l2,-0.2 l2,-1.3" stroke="#8c1a0a" stroke-width="1.1" fill="none"/><path d="M624.5,18.3 l2,-0.6 l1.5,0.8 l2,-1.8 l2,0.9 l1.5,-1.5 l2.3,2.3" stroke="#1a8a2e" stroke-width="1.1" fill="none"/>
<polygon points="645,13 650,13 647.5,16" fill="#000"/>
<rect x="656" y="1" width="1" height="25" fill="#a0a0a0" shape-rendering="crispEdges"/><rect x="657" y="1" width="1" height="25" fill="#fff" shape-rendering="crispEdges"/>
<rect x="660" y="4" width="3" height="1" fill="#a6a6a6" shape-rendering="crispEdges"/>
<rect x="660" y="6" width="3" height="1" fill="#a6a6a6" shape-rendering="crispEdges"/>
<rect x="660" y="8" width="3" height="1" fill="#a6a6a6" shape-rendering="crispEdges"/>
<rect x="660" y="10" width="3" height="1" fill="#a6a6a6" shape-rendering="crispEdges"/>
<rect x="660" y="12" width="3" height="1" fill="#a6a6a6" shape-rendering="crispEdges"/>
<rect x="660" y="14" width="3" height="1" fill="#a6a6a6" shape-rendering="crispEdges"/>
<rect x="660" y="16" width="3" height="1" fill="#a6a6a6" shape-rendering="crispEdges"/>
<rect x="660" y="18" width="3" height="1" fill="#a6a6a6" shape-rendering="crispEdges"/>
<rect x="660" y="20" width="3" height="1" fill="#a6a6a6" shape-rendering="crispEdges"/>
<rect x="660" y="22" width="3" height="1" fill="#a6a6a6" shape-rendering="crispEdges"/>
<g shape-rendering="crispEdges"><rect x="666" y="2" width="25" height="22" fill="#f9f9f9"/><rect x="666" y="2" width="25" height="1" fill="#a0a0a0"/><rect x="666" y="2" width="1" height="22" fill="#a0a0a0"/><rect x="690" y="2" width="1" height="22" fill="#fff"/><rect x="666" y="23" width="25" height="1" fill="#fff"/></g>
<path d="M674.5,6.8 V19.2 L677.5,16.6 L679.8,21 L681.6,20.1 L679.4,15.8 L683,15.4 Z" fill="#303030"/>
<path d="M706.5,7.5 V22 M699,14.5 H714" stroke="#404040" stroke-width="1.1"/><rect x="705" y="13" width="3" height="3" fill="#f0f0f0"/>
<rect x="723" y="3" width="1" height="21" fill="#a0a0a0" shape-rendering="crispEdges"/><rect x="724" y="3" width="1" height="21" fill="#fff" shape-rendering="crispEdges"/>
<path d="M740.5,8.3 V20.6" stroke="#505050" stroke-width="1.3"/>
<path d="M762.7,14.5 H775.6" stroke="#505050" stroke-width="1.3"/>
<path d="M791,20.6 L803.2,8.3" stroke="#505050" stroke-width="1.3"/>
<path d="M817,18.5 L829.5,9 M819,21 L831.5,11.5 M821.5,12 L820.5,20 M825.5,9.5 L824.5,17.5 M829.5,7 L828.5,14.5" stroke="#505050" stroke-width="1" fill="none"/><text x="828.3" y="23" font-size="6.5" font-weight="bold" fill="#303030">E</text>
<path d="M846,7.5 H859.5" stroke="#505050" stroke-width="1" stroke-dasharray="1 1"/>
<path d="M846,10.5 H859.5" stroke="#505050" stroke-width="1" stroke-dasharray="1 1"/>
<path d="M846,14 H859.5" stroke="#505050" stroke-width="1" stroke-dasharray="1 1"/>
<path d="M846,18.5 H859.5" stroke="#505050" stroke-width="1" stroke-dasharray="1 1"/>
<text x="855.6" y="23" font-size="6.5" font-weight="bold" fill="#303030">F</text>
<text x="876.2" y="19" font-size="12.5" font-weight="bold" fill="#686868">A</text>
<rect x="903.5" y="8.5" width="11" height="12" fill="none" stroke="#505050" stroke-width="1" stroke-dasharray="1 1"/><text x="905.2" y="19" font-size="11" font-weight="bold" fill="#505050">T</text>
<path d="M931,12.3 l3.2,-3.2 l3.2,3.2 z M937.8,17.2 l3.2,3.2 l3.2,-3.2 z" fill="#404040"/><path d="M933.2,15.2 l2,2 l3.6,-4" stroke="#404040" stroke-width="1.4" fill="none"/>
<polygon points="950.5,13 955.5,13 953.0,16" fill="#000"/>
<rect x="962" y="1" width="1" height="25" fill="#a0a0a0" shape-rendering="crispEdges"/><rect x="963" y="1" width="1" height="25" fill="#fff" shape-rendering="crispEdges"/>
<rect x="966" y="4" width="3" height="1" fill="#a6a6a6" shape-rendering="crispEdges"/>
<rect x="966" y="6" width="3" height="1" fill="#a6a6a6" shape-rendering="crispEdges"/>
<rect x="966" y="8" width="3" height="1" fill="#a6a6a6" shape-rendering="crispEdges"/>
<rect x="966" y="10" width="3" height="1" fill="#a6a6a6" shape-rendering="crispEdges"/>
<rect x="966" y="12" width="3" height="1" fill="#a6a6a6" shape-rendering="crispEdges"/>
<rect x="966" y="14" width="3" height="1" fill="#a6a6a6" shape-rendering="crispEdges"/>
<rect x="966" y="16" width="3" height="1" fill="#a6a6a6" shape-rendering="crispEdges"/>
<rect x="966" y="18" width="3" height="1" fill="#a6a6a6" shape-rendering="crispEdges"/>
<rect x="966" y="20" width="3" height="1" fill="#a6a6a6" shape-rendering="crispEdges"/>
<rect x="966" y="22" width="3" height="1" fill="#a6a6a6" shape-rendering="crispEdges"/>
<g shape-rendering="crispEdges"><rect x="1140" y="2" width="25" height="22" fill="#f9f9f9"/><rect x="1140" y="2" width="25" height="1" fill="#a0a0a0"/><rect x="1140" y="2" width="1" height="22" fill="#a0a0a0"/><rect x="1164" y="2" width="1" height="22" fill="#fff"/><rect x="1140" y="23" width="25" height="1" fill="#fff"/></g>
<text x="977.7" y="17.7" font-size="9.4" fill="#3c3c3c" textLength="12.6" lengthAdjust="spacingAndGlyphs">M1</text>
<text x="1005.4" y="17.7" font-size="9.4" fill="#3c3c3c" textLength="12.6" lengthAdjust="spacingAndGlyphs">M5</text>
<text x="1031.7" y="17.7" font-size="9.4" fill="#3c3c3c" textLength="17.5" lengthAdjust="spacingAndGlyphs">M15</text>
<text x="1059.6" y="17.7" font-size="9.4" fill="#3c3c3c" textLength="17.7" lengthAdjust="spacingAndGlyphs">M30</text>
<text x="1090.5" y="17.7" font-size="9.4" fill="#3c3c3c" textLength="12.1" lengthAdjust="spacingAndGlyphs">H1</text>
<text x="1117.6" y="17.7" font-size="9.4" fill="#3c3c3c" textLength="12.4" lengthAdjust="spacingAndGlyphs">H4</text>
<text x="1146.6" y="17.7" font-size="9.4" fill="#3c3c3c" textLength="11.6" lengthAdjust="spacingAndGlyphs">D1</text>
<text x="1174" y="17.7" font-size="9.4" fill="#3c3c3c" textLength="14" lengthAdjust="spacingAndGlyphs">W1</text>
<text x="1200.9" y="17.7" font-size="9.4" fill="#3c3c3c" textLength="14.5" lengthAdjust="spacingAndGlyphs">MN</text>
<rect x="1223" y="1" width="1" height="25" fill="#a0a0a0" shape-rendering="crispEdges"/><rect x="1224" y="1" width="1" height="25" fill="#fff" shape-rendering="crispEdges"/>
<path d="M1690,14.9 L1685.9,19" stroke="#2a5fd4" stroke-width="2.5" stroke-linecap="round"/><circle cx="1693.6" cy="11.3" r="4" fill="#fbfcff" stroke="#1f58d2" stroke-width="1.3"/>
<defs><linearGradient id="bub" x1="0" y1="0" x2="0" y2="1"><stop offset="0" stop-color="#ffffff"/><stop offset="1" stop-color="#dcdcea"/></linearGradient></defs>
<path d="M1727.6,15.2 l2.2,2.6 l-0.3,-3 z" fill="#8a8a8a"/><ellipse cx="1726.1" cy="10.8" rx="6.4" ry="4.6" fill="url(#bub)" stroke="#8c8c8c" stroke-width="0.9"/>
<path d="M1714.6,18 l-0.4,2.8 l2.8,-2.2 z" fill="#8a8a8a"/><ellipse cx="1717.3" cy="15.1" rx="5" ry="3.7" fill="url(#bub)" stroke="#8c8c8c" stroke-width="0.9"/>
</svg>
</body></html>
